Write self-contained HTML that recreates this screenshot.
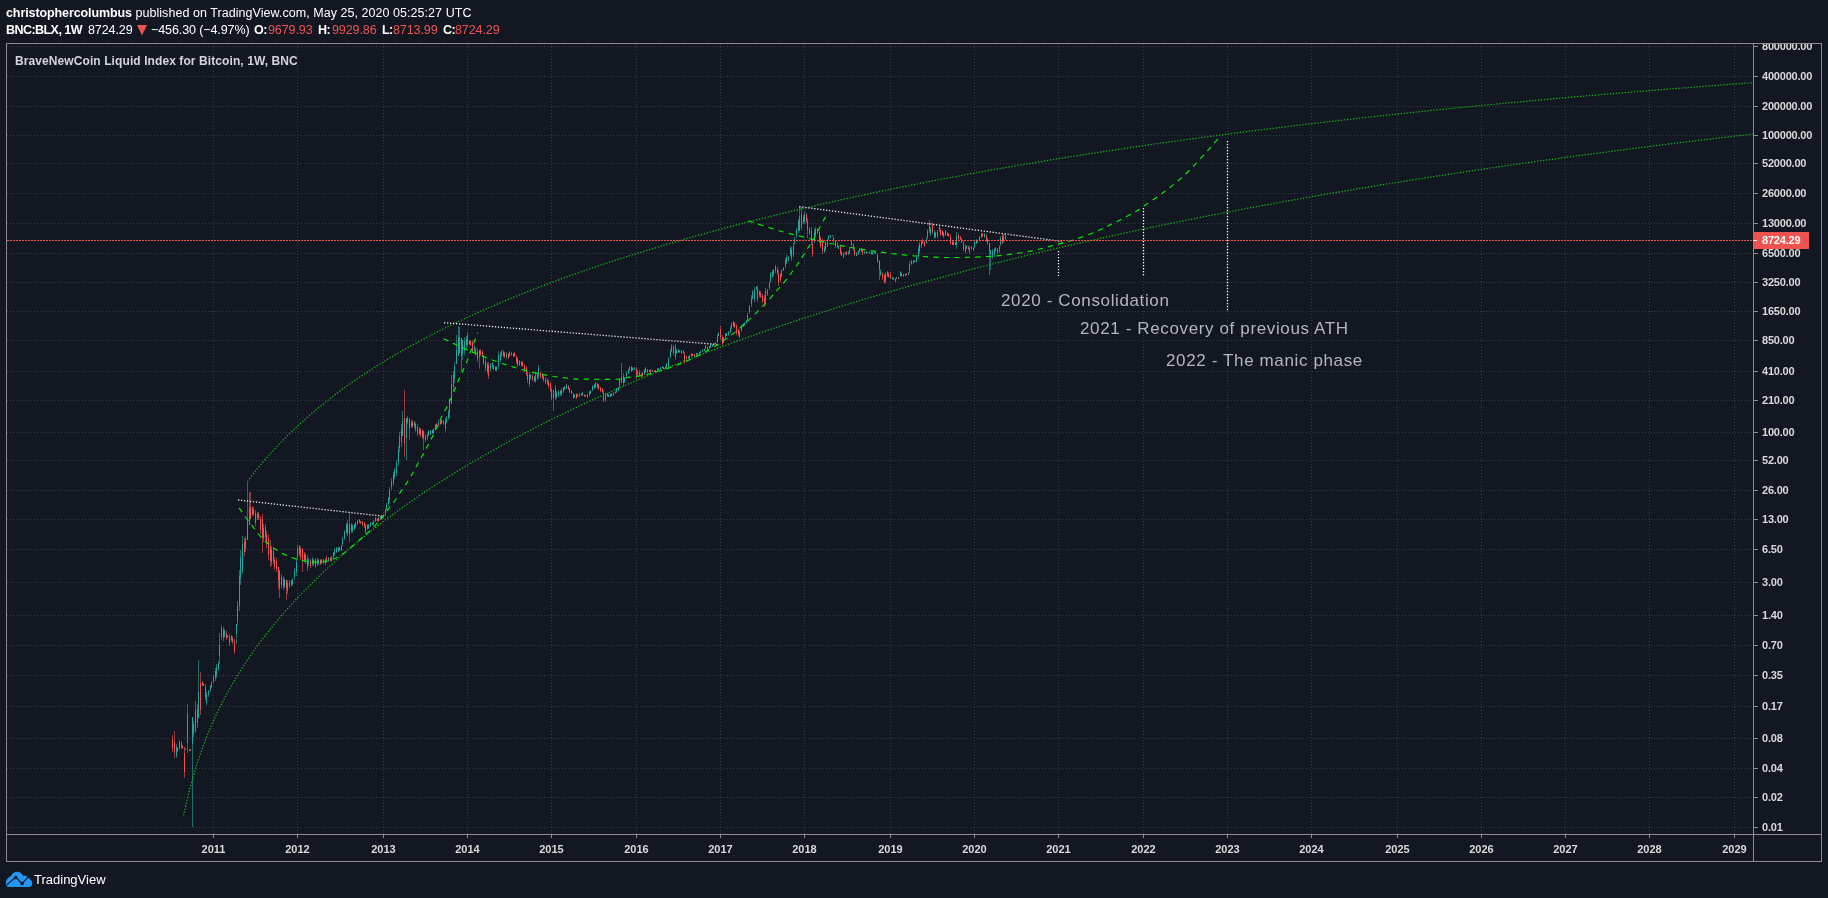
<!DOCTYPE html>
<html><head><meta charset="utf-8"><title>BNC:BLX chart</title>
<style>
html,body{margin:0;padding:0;background:#131722;}
body{width:1828px;height:898px;position:relative;overflow:hidden;font-family:"Liberation Sans",sans-serif;color:#fff;}
svg{position:absolute;left:0;top:0;}
.t{position:absolute;white-space:nowrap;line-height:1;}
.t,.pl,.yl,.tag,.ann,.logo{will-change:transform;}
.h1{left:6px;top:7px;font-size:12.5px;letter-spacing:0.05px;}
.h1 b{letter-spacing:-0.1px;}
.h2{left:6px;top:24px;font-size:12.5px;letter-spacing:-0.1px;}
.h2 b{letter-spacing:-0.55px;}
.h2 span{position:absolute;top:0;}
.red{color:#ef5350;}
.title{left:15px;top:55px;font-size:12px;font-weight:bold;color:#d1d4dc;letter-spacing:0.09px;}
.axis{position:absolute;left:1754px;top:44px;width:67px;height:790px;overflow:hidden;}
.pl{position:absolute;left:1762px;font-size:11px;font-weight:bold;color:#d9d9d9;line-height:12px;height:12px;white-space:nowrap;letter-spacing:-0.2px;}
.yl{position:absolute;top:843px;width:41px;text-align:center;font-size:11px;font-weight:bold;color:#d9d9d9;line-height:12px;}
.tag{position:absolute;left:1753px;top:232px;width:56px;height:17px;background:#ef5350;}
.tag i{position:absolute;left:0;top:8px;width:4px;height:1px;background:#fff;}
.tag b{position:absolute;left:9px;top:2px;font-size:11px;line-height:12px;color:#fff;letter-spacing:-0.2px;}
.ann{position:absolute;white-space:nowrap;color:#b2b5be;font-size:17px;line-height:1;letter-spacing:0.63px;}
.logo{position:absolute;left:34px;top:872px;font-size:13px;color:#fff;line-height:15px;}
</style></head><body>
<svg width="1828" height="898" viewBox="0 0 1828 898">
<g stroke="#363a45" stroke-width="1" stroke-dasharray="1 2" shape-rendering="crispEdges"><line x1="7" y1="46.5" x2="1753" y2="46.5"/><line x1="7" y1="76.5" x2="1753" y2="76.5"/><line x1="7" y1="106.5" x2="1753" y2="106.5"/><line x1="7" y1="135.5" x2="1753" y2="135.5"/><line x1="7" y1="163.5" x2="1753" y2="163.5"/><line x1="7" y1="193.5" x2="1753" y2="193.5"/><line x1="7" y1="223.5" x2="1753" y2="223.5"/><line x1="7" y1="253.5" x2="1753" y2="253.5"/><line x1="7" y1="282.5" x2="1753" y2="282.5"/><line x1="7" y1="311.5" x2="1753" y2="311.5"/><line x1="7" y1="340.5" x2="1753" y2="340.5"/><line x1="7" y1="371.5" x2="1753" y2="371.5"/><line x1="7" y1="400.5" x2="1753" y2="400.5"/><line x1="7" y1="432.5" x2="1753" y2="432.5"/><line x1="7" y1="460.5" x2="1753" y2="460.5"/><line x1="7" y1="490.5" x2="1753" y2="490.5"/><line x1="7" y1="519.5" x2="1753" y2="519.5"/><line x1="7" y1="549.5" x2="1753" y2="549.5"/><line x1="7" y1="582.5" x2="1753" y2="582.5"/><line x1="7" y1="615.5" x2="1753" y2="615.5"/><line x1="7" y1="645.5" x2="1753" y2="645.5"/><line x1="7" y1="675.5" x2="1753" y2="675.5"/><line x1="7" y1="706.5" x2="1753" y2="706.5"/><line x1="7" y1="738.5" x2="1753" y2="738.5"/><line x1="7" y1="768.5" x2="1753" y2="768.5"/><line x1="7" y1="797.5" x2="1753" y2="797.5"/><line x1="7" y1="827.5" x2="1753" y2="827.5"/><line x1="213.5" y1="44" x2="213.5" y2="834"/><line x1="297.5" y1="44" x2="297.5" y2="834"/><line x1="383.5" y1="44" x2="383.5" y2="834"/><line x1="467.5" y1="44" x2="467.5" y2="834"/><line x1="551.5" y1="44" x2="551.5" y2="834"/><line x1="636.5" y1="44" x2="636.5" y2="834"/><line x1="720.5" y1="44" x2="720.5" y2="834"/><line x1="804.5" y1="44" x2="804.5" y2="834"/><line x1="890.5" y1="44" x2="890.5" y2="834"/><line x1="974.5" y1="44" x2="974.5" y2="834"/><line x1="1058.5" y1="44" x2="1058.5" y2="834"/><line x1="1143.5" y1="44" x2="1143.5" y2="834"/><line x1="1227.5" y1="44" x2="1227.5" y2="834"/><line x1="1311.5" y1="44" x2="1311.5" y2="834"/><line x1="1397.5" y1="44" x2="1397.5" y2="834"/><line x1="1481.5" y1="44" x2="1481.5" y2="834"/><line x1="1565.5" y1="44" x2="1565.5" y2="834"/><line x1="1649.5" y1="44" x2="1649.5" y2="834"/><line x1="1734.5" y1="44" x2="1734.5" y2="834"/></g>
<g shape-rendering="crispEdges"><rect x="172" y="735.4" width="1" height="16.2" fill="#ef5350" opacity="0.6"/>
<rect x="172" y="738.6" width="1" height="9.7" fill="#ef5350"/>
<rect x="174" y="731.4" width="1" height="26.8" fill="#ef5350" opacity="0.6"/>
<rect x="174" y="741.9" width="1" height="10.1" fill="#ef5350"/>
<rect x="176" y="744.4" width="1" height="13.8" fill="#26a69a" opacity="0.6"/>
<rect x="176" y="747.2" width="1" height="8.3" fill="#26a69a"/>
<rect x="177" y="747.4" width="1" height="4.2" fill="#ef5350" opacity="0.6"/>
<rect x="177" y="748.2" width="1" height="2.5" fill="#ef5350"/>
<rect x="179" y="740.1" width="1" height="9.5" fill="#26a69a" opacity="0.6"/>
<rect x="179" y="742.0" width="1" height="5.7" fill="#26a69a"/>
<rect x="181" y="741.0" width="1" height="7.6" fill="#26a69a" opacity="0.6"/>
<rect x="181" y="742.5" width="1" height="4.6" fill="#26a69a"/>
<rect x="182" y="745.4" width="1" height="3.2" fill="#ef5350" opacity="0.6"/>
<rect x="182" y="746.0" width="1" height="1.9" fill="#ef5350"/>
<rect x="184" y="747.4" width="1" height="30.2" fill="#ef5350" opacity="0.6"/>
<rect x="184" y="753.4" width="1" height="18.1" fill="#ef5350"/>
<rect x="185" y="748.4" width="1" height="1.5" fill="#ef5350" opacity="0.6"/>
<rect x="185" y="748.7" width="1" height="0.9" fill="#ef5350"/>
<rect x="187" y="704.1" width="1" height="48.5" fill="#26a69a" opacity="0.6"/>
<rect x="187" y="713.8" width="1" height="29.1" fill="#26a69a"/>
<rect x="189" y="749.4" width="1" height="1.5" fill="#ef5350" opacity="0.6"/>
<rect x="189" y="749.7" width="1" height="0.9" fill="#ef5350"/>
<rect x="190" y="749.4" width="1" height="1.5" fill="#ef5350" opacity="0.6"/>
<rect x="190" y="749.7" width="1" height="0.9" fill="#ef5350"/>
<rect x="192" y="717.4" width="1" height="109.2" fill="#26a69a" opacity="0.6"/>
<rect x="192" y="717.4" width="1" height="26.8" fill="#26a69a"/>
<rect x="193" y="721.1" width="1" height="16.3" fill="#26a69a" opacity="0.6"/>
<rect x="193" y="724.4" width="1" height="9.8" fill="#26a69a"/>
<rect x="195" y="701.2" width="1" height="30.4" fill="#26a69a" opacity="0.6"/>
<rect x="195" y="710.4" width="1" height="21.2" fill="#26a69a"/>
<rect x="197" y="704.1" width="1" height="23.5" fill="#26a69a" opacity="0.6"/>
<rect x="197" y="708.8" width="1" height="14.1" fill="#26a69a"/>
<rect x="198" y="660.4" width="1" height="58.0" fill="#26a69a" opacity="0.6"/>
<rect x="198" y="691.8" width="1" height="26.6" fill="#26a69a"/>
<rect x="200" y="672.4" width="1" height="42.2" fill="#ef5350" opacity="0.6"/>
<rect x="200" y="683.3" width="1" height="26.5" fill="#ef5350"/>
<rect x="202" y="681.4" width="1" height="4.8" fill="#ef5350" opacity="0.6"/>
<rect x="202" y="682.4" width="1" height="2.9" fill="#ef5350"/>
<rect x="203" y="683.2" width="1" height="3.0" fill="#ef5350" opacity="0.6"/>
<rect x="203" y="683.8" width="1" height="1.8" fill="#ef5350"/>
<rect x="205" y="684.2" width="1" height="16.2" fill="#ef5350" opacity="0.6"/>
<rect x="205" y="687.4" width="1" height="9.7" fill="#ef5350"/>
<rect x="206" y="692.4" width="1" height="12.8" fill="#26a69a" opacity="0.6"/>
<rect x="206" y="695.0" width="1" height="7.7" fill="#26a69a"/>
<rect x="208" y="689.9" width="1" height="6.7" fill="#26a69a" opacity="0.6"/>
<rect x="208" y="691.2" width="1" height="4.0" fill="#26a69a"/>
<rect x="210" y="685.1" width="1" height="6.5" fill="#26a69a" opacity="0.6"/>
<rect x="210" y="686.4" width="1" height="3.9" fill="#26a69a"/>
<rect x="211" y="681.4" width="1" height="6.7" fill="#26a69a" opacity="0.6"/>
<rect x="211" y="682.7" width="1" height="4.0" fill="#26a69a"/>
<rect x="213" y="675.4" width="1" height="8.0" fill="#26a69a" opacity="0.6"/>
<rect x="213" y="677.0" width="1" height="4.8" fill="#26a69a"/>
<rect x="215" y="668.1" width="1" height="12.5" fill="#26a69a" opacity="0.6"/>
<rect x="215" y="670.6" width="1" height="7.5" fill="#26a69a"/>
<rect x="216" y="664.3" width="1" height="13.3" fill="#26a69a" opacity="0.6"/>
<rect x="216" y="667.0" width="1" height="8.0" fill="#26a69a"/>
<rect x="218" y="661.4" width="1" height="9.7" fill="#26a69a" opacity="0.6"/>
<rect x="218" y="663.3" width="1" height="5.8" fill="#26a69a"/>
<rect x="219" y="633.0" width="1" height="30.5" fill="#26a69a" opacity="0.6"/>
<rect x="219" y="644.9" width="1" height="11.4" fill="#26a69a"/>
<rect x="221" y="625.4" width="1" height="14.2" fill="#26a69a" opacity="0.6"/>
<rect x="221" y="628.2" width="1" height="8.5" fill="#26a69a"/>
<rect x="223" y="627.4" width="1" height="13.2" fill="#ef5350" opacity="0.6"/>
<rect x="223" y="630.0" width="1" height="7.9" fill="#ef5350"/>
<rect x="224" y="629.2" width="1" height="8.4" fill="#26a69a" opacity="0.6"/>
<rect x="224" y="630.9" width="1" height="5.0" fill="#26a69a"/>
<rect x="226" y="631.1" width="1" height="8.5" fill="#ef5350" opacity="0.6"/>
<rect x="226" y="632.8" width="1" height="5.1" fill="#ef5350"/>
<rect x="227" y="634.9" width="1" height="2.7" fill="#26a69a" opacity="0.6"/>
<rect x="227" y="635.4" width="1" height="1.6" fill="#26a69a"/>
<rect x="229" y="634.0" width="1" height="11.5" fill="#ef5350" opacity="0.6"/>
<rect x="229" y="636.3" width="1" height="6.9" fill="#ef5350"/>
<rect x="231" y="634.9" width="1" height="6.7" fill="#26a69a" opacity="0.6"/>
<rect x="231" y="636.2" width="1" height="4.0" fill="#26a69a"/>
<rect x="232" y="636.4" width="1" height="7.2" fill="#ef5350" opacity="0.6"/>
<rect x="232" y="637.8" width="1" height="4.3" fill="#ef5350"/>
<rect x="234" y="639.4" width="1" height="14.6" fill="#ef5350" opacity="0.6"/>
<rect x="234" y="642.3" width="1" height="8.8" fill="#ef5350"/>
<rect x="236" y="624.4" width="1" height="19.2" fill="#26a69a" opacity="0.6"/>
<rect x="236" y="624.4" width="1" height="9.6" fill="#26a69a"/>
<rect x="237" y="601.4" width="1" height="24.2" fill="#26a69a" opacity="0.6"/>
<rect x="237" y="606.2" width="1" height="14.5" fill="#26a69a"/>
<rect x="239" y="570.4" width="1" height="41.0" fill="#26a69a" opacity="0.6"/>
<rect x="239" y="575.5" width="1" height="30.0" fill="#26a69a"/>
<rect x="240" y="550.4" width="1" height="34.2" fill="#26a69a" opacity="0.6"/>
<rect x="240" y="557.2" width="1" height="20.5" fill="#26a69a"/>
<rect x="242" y="536.4" width="1" height="37.2" fill="#26a69a" opacity="0.6"/>
<rect x="242" y="544.0" width="1" height="26.5" fill="#26a69a"/>
<rect x="244" y="538.4" width="1" height="17.2" fill="#ef5350" opacity="0.6"/>
<rect x="244" y="541.8" width="1" height="10.3" fill="#ef5350"/>
<rect x="245" y="536.4" width="1" height="15.2" fill="#26a69a" opacity="0.6"/>
<rect x="245" y="539.4" width="1" height="9.1" fill="#26a69a"/>
<rect x="247" y="482.4" width="1" height="57.2" fill="#26a69a" opacity="0.6"/>
<rect x="247" y="521.0" width="1" height="18.6" fill="#26a69a"/>
<rect x="249" y="491.6" width="1" height="33.4" fill="#ef5350" opacity="0.6"/>
<rect x="249" y="506.5" width="1" height="18.4" fill="#ef5350"/>
<rect x="250" y="492.4" width="1" height="26.2" fill="#ef5350" opacity="0.6"/>
<rect x="250" y="506.5" width="1" height="12.1" fill="#ef5350"/>
<rect x="252" y="506.4" width="1" height="9.2" fill="#ef5350" opacity="0.6"/>
<rect x="252" y="508.2" width="1" height="5.5" fill="#ef5350"/>
<rect x="253" y="507.4" width="1" height="8.2" fill="#26a69a" opacity="0.6"/>
<rect x="253" y="509.0" width="1" height="4.9" fill="#26a69a"/>
<rect x="255" y="510.4" width="1" height="15.2" fill="#ef5350" opacity="0.6"/>
<rect x="255" y="513.4" width="1" height="9.1" fill="#ef5350"/>
<rect x="257" y="512.4" width="1" height="7.2" fill="#26a69a" opacity="0.6"/>
<rect x="257" y="513.8" width="1" height="4.3" fill="#26a69a"/>
<rect x="258" y="512.4" width="1" height="7.2" fill="#ef5350" opacity="0.6"/>
<rect x="258" y="513.8" width="1" height="4.3" fill="#ef5350"/>
<rect x="260" y="515.7" width="1" height="18.2" fill="#ef5350" opacity="0.6"/>
<rect x="260" y="519.3" width="1" height="10.9" fill="#ef5350"/>
<rect x="262" y="514.4" width="1" height="38.2" fill="#ef5350" opacity="0.6"/>
<rect x="262" y="518.5" width="1" height="19.8" fill="#ef5350"/>
<rect x="263" y="524.4" width="1" height="17.2" fill="#26a69a" opacity="0.6"/>
<rect x="263" y="527.8" width="1" height="10.3" fill="#26a69a"/>
<rect x="265" y="524.4" width="1" height="15.2" fill="#26a69a" opacity="0.6"/>
<rect x="265" y="527.4" width="1" height="9.1" fill="#26a69a"/>
<rect x="266" y="531.4" width="1" height="16.2" fill="#ef5350" opacity="0.6"/>
<rect x="266" y="534.7" width="1" height="9.7" fill="#ef5350"/>
<rect x="268" y="534.4" width="1" height="25.2" fill="#ef5350" opacity="0.6"/>
<rect x="268" y="539.4" width="1" height="15.1" fill="#ef5350"/>
<rect x="270" y="540.4" width="1" height="26.2" fill="#ef5350" opacity="0.6"/>
<rect x="270" y="545.6" width="1" height="15.7" fill="#ef5350"/>
<rect x="271" y="546.4" width="1" height="19.2" fill="#ef5350" opacity="0.6"/>
<rect x="271" y="550.2" width="1" height="11.5" fill="#ef5350"/>
<rect x="273" y="548.4" width="1" height="15.2" fill="#26a69a" opacity="0.6"/>
<rect x="273" y="551.4" width="1" height="9.1" fill="#26a69a"/>
<rect x="274" y="557.4" width="1" height="12.2" fill="#ef5350" opacity="0.6"/>
<rect x="274" y="559.8" width="1" height="7.3" fill="#ef5350"/>
<rect x="276" y="558.4" width="1" height="13.2" fill="#ef5350" opacity="0.6"/>
<rect x="276" y="561.0" width="1" height="7.9" fill="#ef5350"/>
<rect x="278" y="567.4" width="1" height="22.2" fill="#ef5350" opacity="0.6"/>
<rect x="278" y="567.4" width="1" height="12.6" fill="#ef5350"/>
<rect x="279" y="570.4" width="1" height="27.2" fill="#ef5350" opacity="0.6"/>
<rect x="279" y="570.5" width="1" height="17.5" fill="#ef5350"/>
<rect x="281" y="574.4" width="1" height="13.2" fill="#ef5350" opacity="0.6"/>
<rect x="281" y="577.0" width="1" height="7.9" fill="#ef5350"/>
<rect x="283" y="576.4" width="1" height="13.2" fill="#ef5350" opacity="0.6"/>
<rect x="283" y="579.0" width="1" height="7.9" fill="#ef5350"/>
<rect x="284" y="578.4" width="1" height="9.2" fill="#26a69a" opacity="0.6"/>
<rect x="284" y="580.2" width="1" height="5.5" fill="#26a69a"/>
<rect x="286" y="580.4" width="1" height="19.2" fill="#ef5350" opacity="0.6"/>
<rect x="286" y="580.4" width="1" height="7.6" fill="#ef5350"/>
<rect x="287" y="580.4" width="1" height="13.2" fill="#26a69a" opacity="0.6"/>
<rect x="287" y="583.0" width="1" height="7.9" fill="#26a69a"/>
<rect x="289" y="580.4" width="1" height="7.2" fill="#26a69a" opacity="0.6"/>
<rect x="289" y="581.8" width="1" height="4.3" fill="#26a69a"/>
<rect x="291" y="580.1" width="1" height="5.8" fill="#26a69a" opacity="0.6"/>
<rect x="291" y="581.3" width="1" height="3.5" fill="#26a69a"/>
<rect x="292" y="578.4" width="1" height="7.2" fill="#26a69a" opacity="0.6"/>
<rect x="292" y="579.8" width="1" height="4.3" fill="#26a69a"/>
<rect x="294" y="568.4" width="1" height="11.2" fill="#26a69a" opacity="0.6"/>
<rect x="294" y="570.6" width="1" height="6.7" fill="#26a69a"/>
<rect x="296" y="558.4" width="1" height="17.2" fill="#26a69a" opacity="0.6"/>
<rect x="296" y="561.8" width="1" height="10.3" fill="#26a69a"/>
<rect x="297" y="545.4" width="1" height="14.2" fill="#26a69a" opacity="0.6"/>
<rect x="297" y="548.2" width="1" height="8.5" fill="#26a69a"/>
<rect x="299" y="545.4" width="1" height="10.2" fill="#ef5350" opacity="0.6"/>
<rect x="299" y="547.4" width="1" height="6.1" fill="#ef5350"/>
<rect x="300" y="546.4" width="1" height="13.2" fill="#ef5350" opacity="0.6"/>
<rect x="300" y="549.0" width="1" height="7.9" fill="#ef5350"/>
<rect x="302" y="548.4" width="1" height="23.2" fill="#ef5350" opacity="0.6"/>
<rect x="302" y="549.0" width="1" height="12.0" fill="#ef5350"/>
<rect x="304" y="552.4" width="1" height="9.2" fill="#ef5350" opacity="0.6"/>
<rect x="304" y="554.2" width="1" height="5.5" fill="#ef5350"/>
<rect x="305" y="553.4" width="1" height="10.2" fill="#26a69a" opacity="0.6"/>
<rect x="305" y="555.4" width="1" height="6.1" fill="#26a69a"/>
<rect x="307" y="555.4" width="1" height="15.2" fill="#ef5350" opacity="0.6"/>
<rect x="307" y="558.4" width="1" height="9.1" fill="#ef5350"/>
<rect x="308" y="558.4" width="1" height="7.2" fill="#26a69a" opacity="0.6"/>
<rect x="308" y="559.8" width="1" height="4.3" fill="#26a69a"/>
<rect x="310" y="559.4" width="1" height="8.2" fill="#ef5350" opacity="0.6"/>
<rect x="310" y="561.0" width="1" height="4.9" fill="#ef5350"/>
<rect x="312" y="557.4" width="1" height="8.2" fill="#26a69a" opacity="0.6"/>
<rect x="312" y="559.0" width="1" height="4.9" fill="#26a69a"/>
<rect x="313" y="558.8" width="1" height="7.0" fill="#ef5350" opacity="0.6"/>
<rect x="313" y="560.2" width="1" height="4.2" fill="#ef5350"/>
<rect x="315" y="558.4" width="1" height="9.2" fill="#ef5350" opacity="0.6"/>
<rect x="315" y="560.2" width="1" height="5.5" fill="#ef5350"/>
<rect x="317" y="558.4" width="1" height="7.2" fill="#ef5350" opacity="0.6"/>
<rect x="317" y="559.8" width="1" height="4.3" fill="#ef5350"/>
<rect x="318" y="559.1" width="1" height="5.6" fill="#26a69a" opacity="0.6"/>
<rect x="318" y="560.2" width="1" height="3.4" fill="#26a69a"/>
<rect x="320" y="559.1" width="1" height="5.4" fill="#ef5350" opacity="0.6"/>
<rect x="320" y="560.2" width="1" height="3.3" fill="#ef5350"/>
<rect x="321" y="559.1" width="1" height="5.3" fill="#26a69a" opacity="0.6"/>
<rect x="321" y="560.1" width="1" height="3.2" fill="#26a69a"/>
<rect x="323" y="559.0" width="1" height="5.1" fill="#ef5350" opacity="0.6"/>
<rect x="323" y="560.1" width="1" height="3.1" fill="#ef5350"/>
<rect x="325" y="558.4" width="1" height="6.2" fill="#26a69a" opacity="0.6"/>
<rect x="325" y="559.6" width="1" height="3.7" fill="#26a69a"/>
<rect x="326" y="556.4" width="1" height="6.2" fill="#ef5350" opacity="0.6"/>
<rect x="326" y="557.6" width="1" height="3.7" fill="#ef5350"/>
<rect x="328" y="557.0" width="1" height="4.7" fill="#26a69a" opacity="0.6"/>
<rect x="328" y="557.9" width="1" height="2.8" fill="#26a69a"/>
<rect x="330" y="557.0" width="1" height="4.4" fill="#ef5350" opacity="0.6"/>
<rect x="330" y="557.8" width="1" height="2.7" fill="#ef5350"/>
<rect x="331" y="556.4" width="1" height="5.2" fill="#26a69a" opacity="0.6"/>
<rect x="331" y="557.4" width="1" height="3.1" fill="#26a69a"/>
<rect x="333" y="552.4" width="1" height="5.2" fill="#26a69a" opacity="0.6"/>
<rect x="333" y="553.4" width="1" height="3.1" fill="#26a69a"/>
<rect x="334" y="548.4" width="1" height="7.2" fill="#26a69a" opacity="0.6"/>
<rect x="334" y="549.8" width="1" height="4.3" fill="#26a69a"/>
<rect x="336" y="547.4" width="1" height="5.2" fill="#26a69a" opacity="0.6"/>
<rect x="336" y="548.4" width="1" height="3.1" fill="#26a69a"/>
<rect x="338" y="547.3" width="1" height="4.2" fill="#26a69a" opacity="0.6"/>
<rect x="338" y="548.1" width="1" height="2.5" fill="#26a69a"/>
<rect x="339" y="546.6" width="1" height="4.2" fill="#26a69a" opacity="0.6"/>
<rect x="339" y="547.4" width="1" height="2.5" fill="#26a69a"/>
<rect x="341" y="545.4" width="1" height="5.2" fill="#26a69a" opacity="0.6"/>
<rect x="341" y="546.4" width="1" height="3.1" fill="#26a69a"/>
<rect x="342" y="537.4" width="1" height="8.2" fill="#26a69a" opacity="0.6"/>
<rect x="342" y="539.0" width="1" height="4.9" fill="#26a69a"/>
<rect x="344" y="530.4" width="1" height="9.2" fill="#26a69a" opacity="0.6"/>
<rect x="344" y="532.2" width="1" height="5.5" fill="#26a69a"/>
<rect x="346" y="523.4" width="1" height="10.2" fill="#26a69a" opacity="0.6"/>
<rect x="346" y="525.4" width="1" height="6.1" fill="#26a69a"/>
<rect x="347" y="519.9" width="1" height="15.8" fill="#ef5350" opacity="0.6"/>
<rect x="347" y="523.0" width="1" height="9.5" fill="#ef5350"/>
<rect x="349" y="512.4" width="1" height="29.2" fill="#ef5350" opacity="0.6"/>
<rect x="349" y="523.5" width="1" height="10.0" fill="#ef5350"/>
<rect x="351" y="523.4" width="1" height="9.2" fill="#ef5350" opacity="0.6"/>
<rect x="351" y="525.2" width="1" height="5.5" fill="#ef5350"/>
<rect x="352" y="524.4" width="1" height="8.2" fill="#26a69a" opacity="0.6"/>
<rect x="352" y="526.0" width="1" height="4.9" fill="#26a69a"/>
<rect x="354" y="524.4" width="1" height="5.2" fill="#26a69a" opacity="0.6"/>
<rect x="354" y="525.4" width="1" height="3.1" fill="#26a69a"/>
<rect x="355" y="522.4" width="1" height="5.2" fill="#26a69a" opacity="0.6"/>
<rect x="355" y="523.4" width="1" height="3.1" fill="#26a69a"/>
<rect x="357" y="520.4" width="1" height="4.2" fill="#26a69a" opacity="0.6"/>
<rect x="357" y="521.2" width="1" height="2.5" fill="#26a69a"/>
<rect x="359" y="519.4" width="1" height="3.2" fill="#26a69a" opacity="0.6"/>
<rect x="359" y="520.0" width="1" height="1.9" fill="#26a69a"/>
<rect x="360" y="520.8" width="1" height="3.0" fill="#ef5350" opacity="0.6"/>
<rect x="360" y="521.4" width="1" height="1.8" fill="#ef5350"/>
<rect x="362" y="521.4" width="1" height="4.2" fill="#ef5350" opacity="0.6"/>
<rect x="362" y="522.2" width="1" height="2.5" fill="#ef5350"/>
<rect x="364" y="522.4" width="1" height="5.2" fill="#ef5350" opacity="0.6"/>
<rect x="364" y="523.4" width="1" height="3.1" fill="#ef5350"/>
<rect x="365" y="524.4" width="1" height="9.2" fill="#ef5350" opacity="0.6"/>
<rect x="365" y="526.2" width="1" height="5.5" fill="#ef5350"/>
<rect x="367" y="524.4" width="1" height="5.2" fill="#26a69a" opacity="0.6"/>
<rect x="367" y="525.4" width="1" height="3.1" fill="#26a69a"/>
<rect x="368" y="524.4" width="1" height="4.2" fill="#26a69a" opacity="0.6"/>
<rect x="368" y="525.2" width="1" height="2.5" fill="#26a69a"/>
<rect x="370" y="522.4" width="1" height="4.2" fill="#26a69a" opacity="0.6"/>
<rect x="370" y="523.2" width="1" height="2.5" fill="#26a69a"/>
<rect x="372" y="521.8" width="1" height="3.4" fill="#26a69a" opacity="0.6"/>
<rect x="372" y="522.5" width="1" height="2.0" fill="#26a69a"/>
<rect x="373" y="520.4" width="1" height="4.2" fill="#26a69a" opacity="0.6"/>
<rect x="373" y="521.2" width="1" height="2.5" fill="#26a69a"/>
<rect x="375" y="517.4" width="1" height="4.2" fill="#ef5350" opacity="0.6"/>
<rect x="375" y="518.2" width="1" height="2.5" fill="#ef5350"/>
<rect x="377" y="517.8" width="1" height="3.4" fill="#26a69a" opacity="0.6"/>
<rect x="377" y="518.5" width="1" height="2.0" fill="#26a69a"/>
<rect x="378" y="517.4" width="1" height="4.2" fill="#ef5350" opacity="0.6"/>
<rect x="378" y="518.2" width="1" height="2.5" fill="#ef5350"/>
<rect x="380" y="516.4" width="1" height="3.2" fill="#26a69a" opacity="0.6"/>
<rect x="380" y="517.0" width="1" height="1.9" fill="#26a69a"/>
<rect x="381" y="515.7" width="1" height="2.6" fill="#26a69a" opacity="0.6"/>
<rect x="381" y="516.2" width="1" height="1.5" fill="#26a69a"/>
<rect x="383" y="514.4" width="1" height="3.2" fill="#26a69a" opacity="0.6"/>
<rect x="383" y="515.0" width="1" height="1.9" fill="#26a69a"/>
<rect x="385" y="508.4" width="1" height="7.2" fill="#26a69a" opacity="0.6"/>
<rect x="385" y="509.8" width="1" height="4.3" fill="#26a69a"/>
<rect x="386" y="503.4" width="1" height="7.2" fill="#26a69a" opacity="0.6"/>
<rect x="386" y="504.8" width="1" height="4.3" fill="#26a69a"/>
<rect x="388" y="496.5" width="1" height="9.0" fill="#26a69a" opacity="0.6"/>
<rect x="388" y="498.3" width="1" height="5.4" fill="#26a69a"/>
<rect x="389" y="487.4" width="1" height="15.2" fill="#26a69a" opacity="0.6"/>
<rect x="389" y="490.4" width="1" height="9.1" fill="#26a69a"/>
<rect x="391" y="478.4" width="1" height="11.2" fill="#26a69a" opacity="0.6"/>
<rect x="391" y="480.6" width="1" height="6.7" fill="#26a69a"/>
<rect x="393" y="472.4" width="1" height="13.2" fill="#26a69a" opacity="0.6"/>
<rect x="393" y="475.0" width="1" height="7.9" fill="#26a69a"/>
<rect x="394" y="467.8" width="1" height="11.4" fill="#26a69a" opacity="0.6"/>
<rect x="394" y="470.1" width="1" height="6.8" fill="#26a69a"/>
<rect x="396" y="460.4" width="1" height="15.2" fill="#26a69a" opacity="0.6"/>
<rect x="396" y="463.4" width="1" height="9.1" fill="#26a69a"/>
<rect x="398" y="446.4" width="1" height="19.2" fill="#26a69a" opacity="0.6"/>
<rect x="398" y="450.2" width="1" height="11.5" fill="#26a69a"/>
<rect x="399" y="432.4" width="1" height="19.2" fill="#26a69a" opacity="0.6"/>
<rect x="399" y="436.2" width="1" height="11.5" fill="#26a69a"/>
<rect x="401" y="424.4" width="1" height="22.2" fill="#26a69a" opacity="0.6"/>
<rect x="401" y="428.8" width="1" height="13.3" fill="#26a69a"/>
<rect x="402" y="411.4" width="1" height="24.2" fill="#26a69a" opacity="0.6"/>
<rect x="402" y="421.0" width="1" height="14.6" fill="#26a69a"/>
<rect x="404" y="390.0" width="1" height="67.4" fill="#ef5350" opacity="0.6"/>
<rect x="404" y="418.0" width="1" height="25.5" fill="#ef5350"/>
<rect x="406" y="418.4" width="1" height="41.2" fill="#26a69a" opacity="0.6"/>
<rect x="406" y="418.4" width="1" height="19.6" fill="#26a69a"/>
<rect x="407" y="416.4" width="1" height="7.2" fill="#26a69a" opacity="0.6"/>
<rect x="407" y="417.8" width="1" height="4.3" fill="#26a69a"/>
<rect x="409" y="418.4" width="1" height="21.2" fill="#ef5350" opacity="0.6"/>
<rect x="409" y="419.0" width="1" height="9.0" fill="#ef5350"/>
<rect x="411" y="420.4" width="1" height="7.2" fill="#26a69a" opacity="0.6"/>
<rect x="411" y="421.8" width="1" height="4.3" fill="#26a69a"/>
<rect x="412" y="420.4" width="1" height="7.2" fill="#ef5350" opacity="0.6"/>
<rect x="412" y="421.8" width="1" height="4.3" fill="#ef5350"/>
<rect x="414" y="421.4" width="1" height="6.2" fill="#26a69a" opacity="0.6"/>
<rect x="414" y="422.6" width="1" height="3.7" fill="#26a69a"/>
<rect x="415" y="422.4" width="1" height="9.2" fill="#ef5350" opacity="0.6"/>
<rect x="415" y="424.2" width="1" height="5.5" fill="#ef5350"/>
<rect x="417" y="424.4" width="1" height="11.2" fill="#ef5350" opacity="0.6"/>
<rect x="417" y="426.6" width="1" height="6.7" fill="#ef5350"/>
<rect x="419" y="427.4" width="1" height="7.8" fill="#ef5350" opacity="0.6"/>
<rect x="419" y="428.9" width="1" height="4.7" fill="#ef5350"/>
<rect x="420" y="428.4" width="1" height="8.2" fill="#ef5350" opacity="0.6"/>
<rect x="420" y="430.0" width="1" height="4.9" fill="#ef5350"/>
<rect x="422" y="429.4" width="1" height="9.2" fill="#ef5350" opacity="0.6"/>
<rect x="422" y="431.2" width="1" height="5.5" fill="#ef5350"/>
<rect x="423" y="431.4" width="1" height="18.2" fill="#ef5350" opacity="0.6"/>
<rect x="423" y="431.4" width="1" height="6.6" fill="#ef5350"/>
<rect x="425" y="434.4" width="1" height="7.2" fill="#26a69a" opacity="0.6"/>
<rect x="425" y="435.8" width="1" height="4.3" fill="#26a69a"/>
<rect x="427" y="433.4" width="1" height="6.2" fill="#26a69a" opacity="0.6"/>
<rect x="427" y="434.6" width="1" height="3.7" fill="#26a69a"/>
<rect x="428" y="430.4" width="1" height="5.2" fill="#26a69a" opacity="0.6"/>
<rect x="428" y="431.4" width="1" height="3.1" fill="#26a69a"/>
<rect x="430" y="430.3" width="1" height="4.2" fill="#26a69a" opacity="0.6"/>
<rect x="430" y="431.1" width="1" height="2.5" fill="#26a69a"/>
<rect x="432" y="429.6" width="1" height="4.2" fill="#26a69a" opacity="0.6"/>
<rect x="432" y="430.4" width="1" height="2.5" fill="#26a69a"/>
<rect x="433" y="428.4" width="1" height="5.2" fill="#26a69a" opacity="0.6"/>
<rect x="433" y="429.4" width="1" height="3.1" fill="#26a69a"/>
<rect x="435" y="424.4" width="1" height="5.2" fill="#26a69a" opacity="0.6"/>
<rect x="435" y="425.4" width="1" height="3.1" fill="#26a69a"/>
<rect x="436" y="423.0" width="1" height="4.6" fill="#ef5350" opacity="0.6"/>
<rect x="436" y="423.9" width="1" height="2.7" fill="#ef5350"/>
<rect x="438" y="420.4" width="1" height="6.2" fill="#26a69a" opacity="0.6"/>
<rect x="438" y="421.6" width="1" height="3.7" fill="#26a69a"/>
<rect x="440" y="420.4" width="1" height="4.2" fill="#ef5350" opacity="0.6"/>
<rect x="440" y="421.3" width="1" height="2.5" fill="#ef5350"/>
<rect x="441" y="419.4" width="1" height="4.2" fill="#ef5350" opacity="0.6"/>
<rect x="441" y="420.2" width="1" height="2.5" fill="#ef5350"/>
<rect x="443" y="420.4" width="1" height="4.2" fill="#ef5350" opacity="0.6"/>
<rect x="443" y="421.2" width="1" height="2.5" fill="#ef5350"/>
<rect x="445" y="418.4" width="1" height="13.2" fill="#ef5350" opacity="0.6"/>
<rect x="445" y="421.0" width="1" height="7.9" fill="#ef5350"/>
<rect x="446" y="416.4" width="1" height="7.2" fill="#26a69a" opacity="0.6"/>
<rect x="446" y="417.8" width="1" height="4.3" fill="#26a69a"/>
<rect x="448" y="410.4" width="1" height="9.2" fill="#26a69a" opacity="0.6"/>
<rect x="448" y="412.2" width="1" height="5.5" fill="#26a69a"/>
<rect x="449" y="399.4" width="1" height="18.2" fill="#26a69a" opacity="0.6"/>
<rect x="449" y="399.4" width="1" height="12.6" fill="#26a69a"/>
<rect x="451" y="375.4" width="1" height="28.2" fill="#26a69a" opacity="0.6"/>
<rect x="451" y="383.6" width="1" height="20.0" fill="#26a69a"/>
<rect x="453" y="371.1" width="1" height="19.6" fill="#26a69a" opacity="0.6"/>
<rect x="453" y="375.0" width="1" height="11.7" fill="#26a69a"/>
<rect x="454" y="361.9" width="1" height="20.7" fill="#26a69a" opacity="0.6"/>
<rect x="454" y="366.0" width="1" height="12.4" fill="#26a69a"/>
<rect x="456" y="335.4" width="1" height="28.2" fill="#26a69a" opacity="0.6"/>
<rect x="456" y="349.8" width="1" height="13.9" fill="#26a69a"/>
<rect x="458" y="326.4" width="1" height="29.2" fill="#26a69a" opacity="0.6"/>
<rect x="458" y="337.8" width="1" height="17.9" fill="#26a69a"/>
<rect x="459" y="327.4" width="1" height="25.2" fill="#ef5350" opacity="0.6"/>
<rect x="459" y="337.2" width="1" height="15.4" fill="#ef5350"/>
<rect x="461" y="338.4" width="1" height="32.2" fill="#26a69a" opacity="0.6"/>
<rect x="461" y="338.4" width="1" height="17.1" fill="#26a69a"/>
<rect x="462" y="340.4" width="1" height="19.8" fill="#26a69a" opacity="0.6"/>
<rect x="462" y="340.4" width="1" height="13.6" fill="#26a69a"/>
<rect x="464" y="337.4" width="1" height="17.2" fill="#26a69a" opacity="0.6"/>
<rect x="464" y="340.8" width="1" height="10.3" fill="#26a69a"/>
<rect x="466" y="336.4" width="1" height="11.2" fill="#26a69a" opacity="0.6"/>
<rect x="466" y="338.6" width="1" height="6.7" fill="#26a69a"/>
<rect x="467" y="332.4" width="1" height="14.2" fill="#ef5350" opacity="0.6"/>
<rect x="467" y="335.2" width="1" height="8.5" fill="#ef5350"/>
<rect x="469" y="340.4" width="1" height="4.2" fill="#ef5350" opacity="0.6"/>
<rect x="469" y="341.2" width="1" height="2.5" fill="#ef5350"/>
<rect x="470" y="340.4" width="1" height="5.2" fill="#ef5350" opacity="0.6"/>
<rect x="470" y="341.4" width="1" height="3.1" fill="#ef5350"/>
<rect x="472" y="340.4" width="1" height="12.7" fill="#ef5350" opacity="0.6"/>
<rect x="472" y="342.9" width="1" height="7.6" fill="#ef5350"/>
<rect x="474" y="345.4" width="1" height="7.2" fill="#26a69a" opacity="0.6"/>
<rect x="474" y="346.8" width="1" height="4.3" fill="#26a69a"/>
<rect x="475" y="347.9" width="1" height="8.2" fill="#ef5350" opacity="0.6"/>
<rect x="475" y="349.6" width="1" height="4.9" fill="#ef5350"/>
<rect x="477" y="348.4" width="1" height="13.2" fill="#ef5350" opacity="0.6"/>
<rect x="477" y="351.0" width="1" height="7.9" fill="#ef5350"/>
<rect x="479" y="350.4" width="1" height="18.7" fill="#ef5350" opacity="0.6"/>
<rect x="479" y="350.4" width="1" height="6.9" fill="#ef5350"/>
<rect x="480" y="349.4" width="1" height="6.2" fill="#ef5350" opacity="0.6"/>
<rect x="480" y="350.6" width="1" height="3.7" fill="#ef5350"/>
<rect x="482" y="350.4" width="1" height="6.2" fill="#ef5350" opacity="0.6"/>
<rect x="482" y="351.6" width="1" height="3.7" fill="#ef5350"/>
<rect x="483" y="355.4" width="1" height="9.7" fill="#ef5350" opacity="0.6"/>
<rect x="483" y="357.3" width="1" height="5.8" fill="#ef5350"/>
<rect x="485" y="359.4" width="1" height="11.2" fill="#ef5350" opacity="0.6"/>
<rect x="485" y="361.6" width="1" height="6.7" fill="#ef5350"/>
<rect x="487" y="362.1" width="1" height="11.4" fill="#ef5350" opacity="0.6"/>
<rect x="487" y="364.4" width="1" height="6.9" fill="#ef5350"/>
<rect x="488" y="361.9" width="1" height="17.4" fill="#ef5350" opacity="0.6"/>
<rect x="488" y="365.4" width="1" height="10.4" fill="#ef5350"/>
<rect x="490" y="363.4" width="1" height="7.2" fill="#26a69a" opacity="0.6"/>
<rect x="490" y="364.8" width="1" height="4.3" fill="#26a69a"/>
<rect x="492" y="361.9" width="1" height="6.7" fill="#26a69a" opacity="0.6"/>
<rect x="492" y="363.2" width="1" height="4.0" fill="#26a69a"/>
<rect x="493" y="365.4" width="1" height="4.2" fill="#26a69a" opacity="0.6"/>
<rect x="493" y="366.2" width="1" height="2.5" fill="#26a69a"/>
<rect x="495" y="366.4" width="1" height="4.2" fill="#ef5350" opacity="0.6"/>
<rect x="495" y="367.2" width="1" height="2.5" fill="#ef5350"/>
<rect x="496" y="366.4" width="1" height="4.2" fill="#26a69a" opacity="0.6"/>
<rect x="496" y="367.2" width="1" height="2.5" fill="#26a69a"/>
<rect x="498" y="351.4" width="1" height="17.7" fill="#26a69a" opacity="0.6"/>
<rect x="498" y="354.9" width="1" height="10.6" fill="#26a69a"/>
<rect x="500" y="351.9" width="1" height="9.8" fill="#26a69a" opacity="0.6"/>
<rect x="500" y="353.8" width="1" height="5.9" fill="#26a69a"/>
<rect x="501" y="349.9" width="1" height="6.7" fill="#26a69a" opacity="0.6"/>
<rect x="501" y="351.2" width="1" height="4.0" fill="#26a69a"/>
<rect x="503" y="350.4" width="1" height="6.7" fill="#ef5350" opacity="0.6"/>
<rect x="503" y="351.7" width="1" height="4.0" fill="#ef5350"/>
<rect x="504" y="352.4" width="1" height="5.2" fill="#ef5350" opacity="0.6"/>
<rect x="504" y="353.4" width="1" height="3.1" fill="#ef5350"/>
<rect x="506" y="352.4" width="1" height="6.2" fill="#26a69a" opacity="0.6"/>
<rect x="506" y="353.6" width="1" height="3.7" fill="#26a69a"/>
<rect x="508" y="353.4" width="1" height="5.2" fill="#ef5350" opacity="0.6"/>
<rect x="508" y="354.4" width="1" height="3.1" fill="#ef5350"/>
<rect x="509" y="351.4" width="1" height="5.2" fill="#26a69a" opacity="0.6"/>
<rect x="509" y="352.4" width="1" height="3.1" fill="#26a69a"/>
<rect x="511" y="352.2" width="1" height="4.0" fill="#ef5350" opacity="0.6"/>
<rect x="511" y="353.0" width="1" height="2.4" fill="#ef5350"/>
<rect x="513" y="352.6" width="1" height="3.9" fill="#26a69a" opacity="0.6"/>
<rect x="513" y="353.3" width="1" height="2.3" fill="#26a69a"/>
<rect x="514" y="352.4" width="1" height="4.7" fill="#ef5350" opacity="0.6"/>
<rect x="514" y="353.3" width="1" height="2.8" fill="#ef5350"/>
<rect x="516" y="355.4" width="1" height="8.2" fill="#ef5350" opacity="0.6"/>
<rect x="516" y="357.0" width="1" height="4.9" fill="#ef5350"/>
<rect x="517" y="357.4" width="1" height="9.2" fill="#ef5350" opacity="0.6"/>
<rect x="517" y="359.2" width="1" height="5.5" fill="#ef5350"/>
<rect x="519" y="360.4" width="1" height="5.2" fill="#ef5350" opacity="0.6"/>
<rect x="519" y="361.4" width="1" height="3.1" fill="#ef5350"/>
<rect x="521" y="361.4" width="1" height="4.2" fill="#ef5350" opacity="0.6"/>
<rect x="521" y="362.3" width="1" height="2.5" fill="#ef5350"/>
<rect x="522" y="361.4" width="1" height="5.2" fill="#ef5350" opacity="0.6"/>
<rect x="522" y="362.4" width="1" height="3.1" fill="#ef5350"/>
<rect x="524" y="364.4" width="1" height="7.2" fill="#ef5350" opacity="0.6"/>
<rect x="524" y="365.8" width="1" height="4.3" fill="#ef5350"/>
<rect x="526" y="366.4" width="1" height="9.2" fill="#ef5350" opacity="0.6"/>
<rect x="526" y="368.2" width="1" height="5.5" fill="#ef5350"/>
<rect x="527" y="371.4" width="1" height="11.2" fill="#ef5350" opacity="0.6"/>
<rect x="527" y="373.6" width="1" height="6.7" fill="#ef5350"/>
<rect x="529" y="372.4" width="1" height="14.9" fill="#ef5350" opacity="0.6"/>
<rect x="529" y="375.4" width="1" height="8.9" fill="#ef5350"/>
<rect x="530" y="373.9" width="1" height="5.7" fill="#26a69a" opacity="0.6"/>
<rect x="530" y="375.0" width="1" height="3.4" fill="#26a69a"/>
<rect x="532" y="374.4" width="1" height="6.7" fill="#ef5350" opacity="0.6"/>
<rect x="532" y="375.7" width="1" height="4.0" fill="#ef5350"/>
<rect x="534" y="376.4" width="1" height="5.2" fill="#26a69a" opacity="0.6"/>
<rect x="534" y="377.4" width="1" height="3.1" fill="#26a69a"/>
<rect x="535" y="373.4" width="1" height="9.2" fill="#26a69a" opacity="0.6"/>
<rect x="535" y="375.2" width="1" height="5.5" fill="#26a69a"/>
<rect x="537" y="372.4" width="1" height="7.2" fill="#26a69a" opacity="0.6"/>
<rect x="537" y="373.8" width="1" height="4.3" fill="#26a69a"/>
<rect x="538" y="365.1" width="1" height="13.5" fill="#26a69a" opacity="0.6"/>
<rect x="538" y="367.8" width="1" height="8.1" fill="#26a69a"/>
<rect x="540" y="372.4" width="1" height="5.2" fill="#ef5350" opacity="0.6"/>
<rect x="540" y="373.4" width="1" height="3.1" fill="#ef5350"/>
<rect x="542" y="373.4" width="1" height="5.2" fill="#ef5350" opacity="0.6"/>
<rect x="542" y="374.4" width="1" height="3.1" fill="#ef5350"/>
<rect x="543" y="375.4" width="1" height="6.2" fill="#ef5350" opacity="0.6"/>
<rect x="543" y="376.6" width="1" height="3.7" fill="#ef5350"/>
<rect x="545" y="377.4" width="1" height="6.2" fill="#ef5350" opacity="0.6"/>
<rect x="545" y="378.6" width="1" height="3.7" fill="#ef5350"/>
<rect x="547" y="378.4" width="1" height="6.2" fill="#ef5350" opacity="0.6"/>
<rect x="547" y="379.6" width="1" height="3.7" fill="#ef5350"/>
<rect x="548" y="380.4" width="1" height="7.2" fill="#ef5350" opacity="0.6"/>
<rect x="548" y="381.8" width="1" height="4.3" fill="#ef5350"/>
<rect x="550" y="382.4" width="1" height="9.2" fill="#ef5350" opacity="0.6"/>
<rect x="550" y="384.2" width="1" height="5.5" fill="#ef5350"/>
<rect x="551" y="387.9" width="1" height="12.0" fill="#ef5350" opacity="0.6"/>
<rect x="551" y="390.3" width="1" height="7.2" fill="#ef5350"/>
<rect x="553" y="390.4" width="1" height="20.8" fill="#ef5350" opacity="0.6"/>
<rect x="553" y="390.4" width="1" height="7.6" fill="#ef5350"/>
<rect x="555" y="385.4" width="1" height="14.9" fill="#26a69a" opacity="0.6"/>
<rect x="555" y="388.4" width="1" height="8.9" fill="#26a69a"/>
<rect x="556" y="391.4" width="1" height="7.2" fill="#26a69a" opacity="0.6"/>
<rect x="556" y="392.8" width="1" height="4.3" fill="#26a69a"/>
<rect x="558" y="390.4" width="1" height="6.2" fill="#26a69a" opacity="0.6"/>
<rect x="558" y="391.6" width="1" height="3.7" fill="#26a69a"/>
<rect x="560" y="390.1" width="1" height="5.4" fill="#26a69a" opacity="0.6"/>
<rect x="560" y="391.1" width="1" height="3.2" fill="#26a69a"/>
<rect x="561" y="388.4" width="1" height="7.2" fill="#26a69a" opacity="0.6"/>
<rect x="561" y="389.8" width="1" height="4.3" fill="#26a69a"/>
<rect x="563" y="386.8" width="1" height="6.4" fill="#26a69a" opacity="0.6"/>
<rect x="563" y="388.0" width="1" height="3.8" fill="#26a69a"/>
<rect x="564" y="386.1" width="1" height="4.2" fill="#26a69a" opacity="0.6"/>
<rect x="564" y="386.9" width="1" height="2.5" fill="#26a69a"/>
<rect x="566" y="384.4" width="1" height="4.2" fill="#26a69a" opacity="0.6"/>
<rect x="566" y="385.2" width="1" height="2.5" fill="#26a69a"/>
<rect x="568" y="385.4" width="1" height="4.2" fill="#ef5350" opacity="0.6"/>
<rect x="568" y="386.2" width="1" height="2.5" fill="#ef5350"/>
<rect x="569" y="388.4" width="1" height="4.2" fill="#ef5350" opacity="0.6"/>
<rect x="569" y="389.2" width="1" height="2.5" fill="#ef5350"/>
<rect x="571" y="390.4" width="1" height="3.7" fill="#ef5350" opacity="0.6"/>
<rect x="571" y="391.1" width="1" height="2.2" fill="#ef5350"/>
<rect x="573" y="393.4" width="1" height="5.2" fill="#ef5350" opacity="0.6"/>
<rect x="573" y="394.4" width="1" height="3.1" fill="#ef5350"/>
<rect x="574" y="393.9" width="1" height="4.2" fill="#26a69a" opacity="0.6"/>
<rect x="574" y="394.8" width="1" height="2.5" fill="#26a69a"/>
<rect x="576" y="393.4" width="1" height="5.2" fill="#ef5350" opacity="0.6"/>
<rect x="576" y="394.4" width="1" height="3.1" fill="#ef5350"/>
<rect x="577" y="393.8" width="1" height="3.4" fill="#26a69a" opacity="0.6"/>
<rect x="577" y="394.5" width="1" height="2.0" fill="#26a69a"/>
<rect x="579" y="393.4" width="1" height="3.2" fill="#26a69a" opacity="0.6"/>
<rect x="579" y="394.0" width="1" height="1.9" fill="#26a69a"/>
<rect x="581" y="393.2" width="1" height="2.6" fill="#26a69a" opacity="0.6"/>
<rect x="581" y="393.7" width="1" height="1.5" fill="#26a69a"/>
<rect x="582" y="392.4" width="1" height="3.2" fill="#26a69a" opacity="0.6"/>
<rect x="582" y="393.0" width="1" height="1.9" fill="#26a69a"/>
<rect x="584" y="394.1" width="1" height="2.5" fill="#ef5350" opacity="0.6"/>
<rect x="584" y="394.6" width="1" height="1.5" fill="#ef5350"/>
<rect x="585" y="394.5" width="1" height="2.3" fill="#ef5350" opacity="0.6"/>
<rect x="585" y="395.0" width="1" height="1.4" fill="#ef5350"/>
<rect x="587" y="394.4" width="1" height="3.2" fill="#ef5350" opacity="0.6"/>
<rect x="587" y="395.0" width="1" height="1.9" fill="#ef5350"/>
<rect x="589" y="391.4" width="1" height="4.2" fill="#26a69a" opacity="0.6"/>
<rect x="589" y="392.2" width="1" height="2.5" fill="#26a69a"/>
<rect x="590" y="390.4" width="1" height="3.2" fill="#26a69a" opacity="0.6"/>
<rect x="590" y="391.0" width="1" height="1.9" fill="#26a69a"/>
<rect x="592" y="385.4" width="1" height="5.2" fill="#26a69a" opacity="0.6"/>
<rect x="592" y="386.4" width="1" height="3.1" fill="#26a69a"/>
<rect x="594" y="384.4" width="1" height="4.2" fill="#26a69a" opacity="0.6"/>
<rect x="594" y="385.3" width="1" height="2.5" fill="#26a69a"/>
<rect x="595" y="382.4" width="1" height="5.2" fill="#26a69a" opacity="0.6"/>
<rect x="595" y="383.4" width="1" height="3.1" fill="#26a69a"/>
<rect x="597" y="383.4" width="1" height="4.2" fill="#ef5350" opacity="0.6"/>
<rect x="597" y="384.2" width="1" height="2.5" fill="#ef5350"/>
<rect x="598" y="384.4" width="1" height="5.2" fill="#ef5350" opacity="0.6"/>
<rect x="598" y="385.4" width="1" height="3.1" fill="#ef5350"/>
<rect x="600" y="387.4" width="1" height="4.2" fill="#ef5350" opacity="0.6"/>
<rect x="600" y="388.2" width="1" height="2.5" fill="#ef5350"/>
<rect x="602" y="388.4" width="1" height="4.2" fill="#ef5350" opacity="0.6"/>
<rect x="602" y="389.2" width="1" height="2.5" fill="#ef5350"/>
<rect x="603" y="390.4" width="1" height="11.8" fill="#ef5350" opacity="0.6"/>
<rect x="603" y="392.8" width="1" height="7.1" fill="#ef5350"/>
<rect x="605" y="393.4" width="1" height="8.2" fill="#26a69a" opacity="0.6"/>
<rect x="605" y="395.0" width="1" height="4.9" fill="#26a69a"/>
<rect x="607" y="393.4" width="1" height="3.2" fill="#ef5350" opacity="0.6"/>
<rect x="607" y="394.0" width="1" height="1.9" fill="#ef5350"/>
<rect x="608" y="394.4" width="1" height="2.8" fill="#26a69a" opacity="0.6"/>
<rect x="608" y="395.0" width="1" height="1.7" fill="#26a69a"/>
<rect x="610" y="393.4" width="1" height="3.8" fill="#26a69a" opacity="0.6"/>
<rect x="610" y="394.2" width="1" height="2.3" fill="#26a69a"/>
<rect x="611" y="393.2" width="1" height="2.8" fill="#26a69a" opacity="0.6"/>
<rect x="611" y="393.8" width="1" height="1.7" fill="#26a69a"/>
<rect x="613" y="392.4" width="1" height="3.2" fill="#26a69a" opacity="0.6"/>
<rect x="613" y="393.0" width="1" height="1.9" fill="#26a69a"/>
<rect x="615" y="390.8" width="1" height="3.2" fill="#26a69a" opacity="0.6"/>
<rect x="615" y="391.5" width="1" height="1.9" fill="#26a69a"/>
<rect x="616" y="388.4" width="1" height="4.9" fill="#26a69a" opacity="0.6"/>
<rect x="616" y="389.4" width="1" height="2.9" fill="#26a69a"/>
<rect x="618" y="387.1" width="1" height="3.5" fill="#26a69a" opacity="0.6"/>
<rect x="618" y="387.8" width="1" height="2.1" fill="#26a69a"/>
<rect x="619" y="378.4" width="1" height="9.2" fill="#26a69a" opacity="0.6"/>
<rect x="619" y="380.2" width="1" height="5.5" fill="#26a69a"/>
<rect x="621" y="363.2" width="1" height="19.9" fill="#26a69a" opacity="0.6"/>
<rect x="621" y="377.2" width="1" height="5.9" fill="#26a69a"/>
<rect x="623" y="373.0" width="1" height="12.6" fill="#ef5350" opacity="0.6"/>
<rect x="623" y="375.5" width="1" height="7.6" fill="#ef5350"/>
<rect x="624" y="376.9" width="1" height="6.2" fill="#26a69a" opacity="0.6"/>
<rect x="624" y="378.1" width="1" height="3.7" fill="#26a69a"/>
<rect x="626" y="371.4" width="1" height="6.2" fill="#26a69a" opacity="0.6"/>
<rect x="626" y="372.6" width="1" height="3.7" fill="#26a69a"/>
<rect x="628" y="369.2" width="1" height="4.5" fill="#26a69a" opacity="0.6"/>
<rect x="628" y="370.1" width="1" height="2.7" fill="#26a69a"/>
<rect x="629" y="365.8" width="1" height="5.1" fill="#26a69a" opacity="0.6"/>
<rect x="629" y="366.8" width="1" height="3.1" fill="#26a69a"/>
<rect x="631" y="366.0" width="1" height="6.2" fill="#ef5350" opacity="0.6"/>
<rect x="631" y="367.2" width="1" height="3.7" fill="#ef5350"/>
<rect x="632" y="367.0" width="1" height="3.7" fill="#26a69a" opacity="0.6"/>
<rect x="632" y="367.7" width="1" height="2.2" fill="#26a69a"/>
<rect x="634" y="367.1" width="1" height="3.0" fill="#26a69a" opacity="0.6"/>
<rect x="634" y="367.7" width="1" height="1.8" fill="#26a69a"/>
<rect x="636" y="366.8" width="1" height="11.7" fill="#ef5350" opacity="0.6"/>
<rect x="636" y="369.1" width="1" height="7.0" fill="#ef5350"/>
<rect x="637" y="369.9" width="1" height="5.7" fill="#ef5350" opacity="0.6"/>
<rect x="637" y="371.0" width="1" height="3.4" fill="#ef5350"/>
<rect x="639" y="370.4" width="1" height="5.7" fill="#ef5350" opacity="0.6"/>
<rect x="639" y="371.5" width="1" height="3.4" fill="#ef5350"/>
<rect x="641" y="373.0" width="1" height="3.6" fill="#ef5350" opacity="0.6"/>
<rect x="641" y="373.7" width="1" height="2.2" fill="#ef5350"/>
<rect x="642" y="372.4" width="1" height="4.2" fill="#ef5350" opacity="0.6"/>
<rect x="642" y="373.2" width="1" height="2.5" fill="#ef5350"/>
<rect x="644" y="369.4" width="1" height="5.2" fill="#26a69a" opacity="0.6"/>
<rect x="644" y="370.4" width="1" height="3.1" fill="#26a69a"/>
<rect x="645" y="367.4" width="1" height="5.2" fill="#26a69a" opacity="0.6"/>
<rect x="645" y="368.4" width="1" height="3.1" fill="#26a69a"/>
<rect x="647" y="369.1" width="1" height="3.5" fill="#ef5350" opacity="0.6"/>
<rect x="647" y="369.8" width="1" height="2.1" fill="#ef5350"/>
<rect x="649" y="369.6" width="1" height="2.8" fill="#ef5350" opacity="0.6"/>
<rect x="649" y="370.2" width="1" height="1.7" fill="#ef5350"/>
<rect x="650" y="369.4" width="1" height="3.6" fill="#ef5350" opacity="0.6"/>
<rect x="650" y="370.1" width="1" height="2.2" fill="#ef5350"/>
<rect x="652" y="369.9" width="1" height="2.3" fill="#26a69a" opacity="0.6"/>
<rect x="652" y="370.4" width="1" height="1.4" fill="#26a69a"/>
<rect x="654" y="370.1" width="1" height="1.8" fill="#ef5350" opacity="0.6"/>
<rect x="654" y="370.5" width="1" height="1.1" fill="#ef5350"/>
<rect x="655" y="369.9" width="1" height="2.3" fill="#26a69a" opacity="0.6"/>
<rect x="655" y="370.4" width="1" height="1.4" fill="#26a69a"/>
<rect x="657" y="368.4" width="1" height="2.2" fill="#26a69a" opacity="0.6"/>
<rect x="657" y="368.8" width="1" height="1.3" fill="#26a69a"/>
<rect x="658" y="368.1" width="1" height="1.8" fill="#26a69a" opacity="0.6"/>
<rect x="658" y="368.5" width="1" height="1.1" fill="#26a69a"/>
<rect x="660" y="367.4" width="1" height="2.2" fill="#26a69a" opacity="0.6"/>
<rect x="660" y="367.8" width="1" height="1.3" fill="#26a69a"/>
<rect x="662" y="366.0" width="1" height="2.3" fill="#26a69a" opacity="0.6"/>
<rect x="662" y="366.5" width="1" height="1.4" fill="#26a69a"/>
<rect x="663" y="366.8" width="1" height="2.3" fill="#ef5350" opacity="0.6"/>
<rect x="663" y="367.3" width="1" height="1.4" fill="#ef5350"/>
<rect x="665" y="366.4" width="1" height="2.7" fill="#26a69a" opacity="0.6"/>
<rect x="665" y="366.9" width="1" height="1.6" fill="#26a69a"/>
<rect x="666" y="362.5" width="1" height="5.2" fill="#26a69a" opacity="0.6"/>
<rect x="666" y="363.6" width="1" height="3.1" fill="#26a69a"/>
<rect x="668" y="357.4" width="1" height="10.2" fill="#26a69a" opacity="0.6"/>
<rect x="668" y="359.4" width="1" height="6.1" fill="#26a69a"/>
<rect x="670" y="349.4" width="1" height="8.8" fill="#26a69a" opacity="0.6"/>
<rect x="670" y="351.2" width="1" height="5.3" fill="#26a69a"/>
<rect x="671" y="344.2" width="1" height="7.8" fill="#26a69a" opacity="0.6"/>
<rect x="671" y="345.8" width="1" height="4.7" fill="#26a69a"/>
<rect x="673" y="345.4" width="1" height="9.3" fill="#ef5350" opacity="0.6"/>
<rect x="673" y="347.2" width="1" height="5.6" fill="#ef5350"/>
<rect x="675" y="344.2" width="1" height="15.4" fill="#ef5350" opacity="0.6"/>
<rect x="675" y="347.3" width="1" height="9.2" fill="#ef5350"/>
<rect x="676" y="349.4" width="1" height="4.9" fill="#26a69a" opacity="0.6"/>
<rect x="676" y="350.4" width="1" height="2.9" fill="#26a69a"/>
<rect x="678" y="349.1" width="1" height="3.5" fill="#26a69a" opacity="0.6"/>
<rect x="678" y="349.8" width="1" height="2.1" fill="#26a69a"/>
<rect x="679" y="350.1" width="1" height="2.7" fill="#ef5350" opacity="0.6"/>
<rect x="679" y="350.6" width="1" height="1.6" fill="#ef5350"/>
<rect x="681" y="350.4" width="1" height="3.2" fill="#ef5350" opacity="0.6"/>
<rect x="681" y="351.0" width="1" height="1.9" fill="#ef5350"/>
<rect x="683" y="350.4" width="1" height="3.2" fill="#ef5350" opacity="0.6"/>
<rect x="683" y="351.0" width="1" height="1.9" fill="#ef5350"/>
<rect x="684" y="352.4" width="1" height="12.0" fill="#ef5350" opacity="0.6"/>
<rect x="684" y="354.8" width="1" height="7.2" fill="#ef5350"/>
<rect x="686" y="355.9" width="1" height="3.1" fill="#ef5350" opacity="0.6"/>
<rect x="686" y="356.5" width="1" height="1.9" fill="#ef5350"/>
<rect x="688" y="356.0" width="1" height="2.5" fill="#26a69a" opacity="0.6"/>
<rect x="688" y="356.5" width="1" height="1.5" fill="#26a69a"/>
<rect x="689" y="355.4" width="1" height="3.2" fill="#ef5350" opacity="0.6"/>
<rect x="689" y="356.0" width="1" height="1.9" fill="#ef5350"/>
<rect x="691" y="353.4" width="1" height="3.2" fill="#ef5350" opacity="0.6"/>
<rect x="691" y="354.0" width="1" height="1.9" fill="#ef5350"/>
<rect x="692" y="353.9" width="1" height="2.4" fill="#ef5350" opacity="0.6"/>
<rect x="692" y="354.4" width="1" height="1.4" fill="#ef5350"/>
<rect x="694" y="353.9" width="1" height="2.7" fill="#ef5350" opacity="0.6"/>
<rect x="694" y="354.4" width="1" height="1.6" fill="#ef5350"/>
<rect x="696" y="352.9" width="1" height="2.7" fill="#26a69a" opacity="0.6"/>
<rect x="696" y="353.4" width="1" height="1.6" fill="#26a69a"/>
<rect x="697" y="352.7" width="1" height="2.2" fill="#26a69a" opacity="0.6"/>
<rect x="697" y="353.1" width="1" height="1.3" fill="#26a69a"/>
<rect x="699" y="351.9" width="1" height="2.7" fill="#26a69a" opacity="0.6"/>
<rect x="699" y="352.4" width="1" height="1.6" fill="#26a69a"/>
<rect x="700" y="350.9" width="1" height="2.0" fill="#26a69a" opacity="0.6"/>
<rect x="700" y="351.3" width="1" height="1.2" fill="#26a69a"/>
<rect x="702" y="349.4" width="1" height="2.2" fill="#26a69a" opacity="0.6"/>
<rect x="702" y="349.8" width="1" height="1.3" fill="#26a69a"/>
<rect x="704" y="348.9" width="1" height="2.2" fill="#26a69a" opacity="0.6"/>
<rect x="704" y="349.3" width="1" height="1.3" fill="#26a69a"/>
<rect x="705" y="345.0" width="1" height="3.6" fill="#ef5350" opacity="0.6"/>
<rect x="705" y="345.7" width="1" height="2.2" fill="#ef5350"/>
<rect x="707" y="346.4" width="1" height="3.2" fill="#26a69a" opacity="0.6"/>
<rect x="707" y="347.0" width="1" height="1.9" fill="#26a69a"/>
<rect x="709" y="345.7" width="1" height="2.8" fill="#26a69a" opacity="0.6"/>
<rect x="709" y="346.3" width="1" height="1.7" fill="#26a69a"/>
<rect x="710" y="344.4" width="1" height="3.7" fill="#26a69a" opacity="0.6"/>
<rect x="710" y="345.1" width="1" height="2.2" fill="#26a69a"/>
<rect x="712" y="344.2" width="1" height="2.4" fill="#26a69a" opacity="0.6"/>
<rect x="712" y="344.7" width="1" height="1.4" fill="#26a69a"/>
<rect x="713" y="343.4" width="1" height="2.2" fill="#26a69a" opacity="0.6"/>
<rect x="713" y="343.8" width="1" height="1.3" fill="#26a69a"/>
<rect x="715" y="342.4" width="1" height="2.2" fill="#26a69a" opacity="0.6"/>
<rect x="715" y="342.8" width="1" height="1.3" fill="#26a69a"/>
<rect x="717" y="334.1" width="1" height="9.3" fill="#26a69a" opacity="0.6"/>
<rect x="717" y="336.0" width="1" height="5.6" fill="#26a69a"/>
<rect x="718" y="332.4" width="1" height="4.0" fill="#26a69a" opacity="0.6"/>
<rect x="718" y="333.2" width="1" height="2.4" fill="#26a69a"/>
<rect x="720" y="326.3" width="1" height="13.2" fill="#ef5350" opacity="0.6"/>
<rect x="720" y="328.9" width="1" height="7.9" fill="#ef5350"/>
<rect x="722" y="335.4" width="1" height="10.2" fill="#ef5350" opacity="0.6"/>
<rect x="722" y="337.4" width="1" height="6.1" fill="#ef5350"/>
<rect x="723" y="337.2" width="1" height="5.4" fill="#26a69a" opacity="0.6"/>
<rect x="723" y="338.3" width="1" height="3.2" fill="#26a69a"/>
<rect x="725" y="333.4" width="1" height="4.2" fill="#26a69a" opacity="0.6"/>
<rect x="725" y="334.2" width="1" height="2.5" fill="#26a69a"/>
<rect x="726" y="332.8" width="1" height="3.4" fill="#26a69a" opacity="0.6"/>
<rect x="726" y="333.5" width="1" height="2.0" fill="#26a69a"/>
<rect x="728" y="331.4" width="1" height="4.2" fill="#26a69a" opacity="0.6"/>
<rect x="728" y="332.2" width="1" height="2.5" fill="#26a69a"/>
<rect x="730" y="326.4" width="1" height="6.9" fill="#26a69a" opacity="0.6"/>
<rect x="730" y="327.8" width="1" height="4.1" fill="#26a69a"/>
<rect x="731" y="322.4" width="1" height="6.2" fill="#26a69a" opacity="0.6"/>
<rect x="731" y="323.6" width="1" height="3.7" fill="#26a69a"/>
<rect x="733" y="321.4" width="1" height="5.2" fill="#26a69a" opacity="0.6"/>
<rect x="733" y="322.4" width="1" height="3.1" fill="#26a69a"/>
<rect x="734" y="322.4" width="1" height="5.2" fill="#ef5350" opacity="0.6"/>
<rect x="734" y="323.4" width="1" height="3.1" fill="#ef5350"/>
<rect x="736" y="324.0" width="1" height="10.6" fill="#ef5350" opacity="0.6"/>
<rect x="736" y="326.1" width="1" height="6.4" fill="#ef5350"/>
<rect x="738" y="329.0" width="1" height="6.6" fill="#ef5350" opacity="0.6"/>
<rect x="738" y="330.3" width="1" height="4.0" fill="#ef5350"/>
<rect x="739" y="330.4" width="1" height="7.8" fill="#ef5350" opacity="0.6"/>
<rect x="739" y="332.0" width="1" height="4.7" fill="#ef5350"/>
<rect x="741" y="325.4" width="1" height="6.2" fill="#26a69a" opacity="0.6"/>
<rect x="741" y="326.6" width="1" height="3.7" fill="#26a69a"/>
<rect x="743" y="323.4" width="1" height="3.2" fill="#26a69a" opacity="0.6"/>
<rect x="743" y="324.0" width="1" height="1.9" fill="#26a69a"/>
<rect x="744" y="322.4" width="1" height="3.2" fill="#26a69a" opacity="0.6"/>
<rect x="744" y="323.0" width="1" height="1.9" fill="#26a69a"/>
<rect x="746" y="320.4" width="1" height="3.2" fill="#26a69a" opacity="0.6"/>
<rect x="746" y="321.0" width="1" height="1.9" fill="#26a69a"/>
<rect x="747" y="313.1" width="1" height="8.5" fill="#26a69a" opacity="0.6"/>
<rect x="747" y="314.8" width="1" height="5.1" fill="#26a69a"/>
<rect x="749" y="305.4" width="1" height="8.2" fill="#26a69a" opacity="0.6"/>
<rect x="749" y="307.0" width="1" height="4.9" fill="#26a69a"/>
<rect x="751" y="295.4" width="1" height="11.2" fill="#26a69a" opacity="0.6"/>
<rect x="751" y="297.6" width="1" height="6.7" fill="#26a69a"/>
<rect x="752" y="290.4" width="1" height="9.2" fill="#26a69a" opacity="0.6"/>
<rect x="752" y="292.2" width="1" height="5.5" fill="#26a69a"/>
<rect x="754" y="287.4" width="1" height="14.2" fill="#26a69a" opacity="0.6"/>
<rect x="754" y="290.2" width="1" height="8.5" fill="#26a69a"/>
<rect x="756" y="286.4" width="1" height="3.2" fill="#26a69a" opacity="0.6"/>
<rect x="756" y="287.0" width="1" height="1.9" fill="#26a69a"/>
<rect x="757" y="286.4" width="1" height="15.2" fill="#ef5350" opacity="0.6"/>
<rect x="757" y="289.4" width="1" height="9.1" fill="#ef5350"/>
<rect x="759" y="290.4" width="1" height="6.2" fill="#ef5350" opacity="0.6"/>
<rect x="759" y="291.6" width="1" height="3.7" fill="#ef5350"/>
<rect x="760" y="291.4" width="1" height="6.7" fill="#ef5350" opacity="0.6"/>
<rect x="760" y="292.7" width="1" height="4.0" fill="#ef5350"/>
<rect x="762" y="293.9" width="1" height="8.7" fill="#ef5350" opacity="0.6"/>
<rect x="762" y="295.6" width="1" height="5.2" fill="#ef5350"/>
<rect x="764" y="295.4" width="1" height="11.2" fill="#ef5350" opacity="0.6"/>
<rect x="764" y="297.6" width="1" height="6.7" fill="#ef5350"/>
<rect x="765" y="288.1" width="1" height="16.5" fill="#26a69a" opacity="0.6"/>
<rect x="765" y="291.4" width="1" height="9.9" fill="#26a69a"/>
<rect x="767" y="288.9" width="1" height="6.7" fill="#ef5350" opacity="0.6"/>
<rect x="767" y="290.2" width="1" height="4.0" fill="#ef5350"/>
<rect x="769" y="281.4" width="1" height="8.2" fill="#26a69a" opacity="0.6"/>
<rect x="769" y="283.0" width="1" height="4.9" fill="#26a69a"/>
<rect x="770" y="272.2" width="1" height="10.9" fill="#26a69a" opacity="0.6"/>
<rect x="770" y="274.4" width="1" height="6.5" fill="#26a69a"/>
<rect x="772" y="270.4" width="1" height="7.7" fill="#26a69a" opacity="0.6"/>
<rect x="772" y="271.9" width="1" height="4.6" fill="#26a69a"/>
<rect x="773" y="268.9" width="1" height="6.7" fill="#26a69a" opacity="0.6"/>
<rect x="773" y="270.2" width="1" height="4.0" fill="#26a69a"/>
<rect x="775" y="264.7" width="1" height="8.4" fill="#26a69a" opacity="0.6"/>
<rect x="775" y="266.4" width="1" height="5.0" fill="#26a69a"/>
<rect x="777" y="267.2" width="1" height="7.4" fill="#ef5350" opacity="0.6"/>
<rect x="777" y="268.7" width="1" height="4.4" fill="#ef5350"/>
<rect x="778" y="270.4" width="1" height="16.0" fill="#ef5350" opacity="0.6"/>
<rect x="778" y="273.6" width="1" height="9.6" fill="#ef5350"/>
<rect x="780" y="273.4" width="1" height="8.2" fill="#ef5350" opacity="0.6"/>
<rect x="780" y="275.0" width="1" height="4.9" fill="#ef5350"/>
<rect x="781" y="269.4" width="1" height="7.9" fill="#26a69a" opacity="0.6"/>
<rect x="781" y="271.0" width="1" height="4.7" fill="#26a69a"/>
<rect x="783" y="267.2" width="1" height="4.2" fill="#26a69a" opacity="0.6"/>
<rect x="783" y="268.0" width="1" height="2.5" fill="#26a69a"/>
<rect x="785" y="258.4" width="1" height="9.7" fill="#26a69a" opacity="0.6"/>
<rect x="785" y="260.3" width="1" height="5.8" fill="#26a69a"/>
<rect x="786" y="255.4" width="1" height="8.2" fill="#26a69a" opacity="0.6"/>
<rect x="786" y="257.0" width="1" height="4.9" fill="#26a69a"/>
<rect x="788" y="256.4" width="1" height="5.0" fill="#26a69a" opacity="0.6"/>
<rect x="788" y="257.4" width="1" height="3.0" fill="#26a69a"/>
<rect x="790" y="246.4" width="1" height="10.0" fill="#26a69a" opacity="0.6"/>
<rect x="790" y="248.4" width="1" height="6.0" fill="#26a69a"/>
<rect x="791" y="247.2" width="1" height="13.4" fill="#ef5350" opacity="0.6"/>
<rect x="791" y="249.9" width="1" height="8.0" fill="#ef5350"/>
<rect x="793" y="243.4" width="1" height="13.8" fill="#ef5350" opacity="0.6"/>
<rect x="793" y="246.2" width="1" height="8.3" fill="#ef5350"/>
<rect x="794" y="237.2" width="1" height="7.4" fill="#26a69a" opacity="0.6"/>
<rect x="794" y="238.7" width="1" height="4.4" fill="#26a69a"/>
<rect x="796" y="228.0" width="1" height="9.6" fill="#26a69a" opacity="0.6"/>
<rect x="796" y="229.9" width="1" height="5.8" fill="#26a69a"/>
<rect x="798" y="218.6" width="1" height="14.0" fill="#26a69a" opacity="0.6"/>
<rect x="798" y="221.4" width="1" height="8.4" fill="#26a69a"/>
<rect x="799" y="205.7" width="1" height="25.4" fill="#26a69a" opacity="0.6"/>
<rect x="799" y="215.7" width="1" height="15.4" fill="#26a69a"/>
<rect x="801" y="206.6" width="1" height="23.6" fill="#ef5350" opacity="0.6"/>
<rect x="801" y="214.0" width="1" height="14.0" fill="#ef5350"/>
<rect x="803" y="215.4" width="1" height="8.2" fill="#26a69a" opacity="0.6"/>
<rect x="803" y="217.0" width="1" height="4.9" fill="#26a69a"/>
<rect x="804" y="211.4" width="1" height="12.7" fill="#26a69a" opacity="0.6"/>
<rect x="804" y="213.9" width="1" height="7.6" fill="#26a69a"/>
<rect x="806" y="213.4" width="1" height="9.5" fill="#ef5350" opacity="0.6"/>
<rect x="806" y="215.3" width="1" height="5.7" fill="#ef5350"/>
<rect x="807" y="218.4" width="1" height="19.8" fill="#ef5350" opacity="0.6"/>
<rect x="807" y="221.0" width="1" height="9.0" fill="#ef5350"/>
<rect x="809" y="227.4" width="1" height="7.7" fill="#26a69a" opacity="0.6"/>
<rect x="809" y="228.9" width="1" height="4.6" fill="#26a69a"/>
<rect x="811" y="227.4" width="1" height="17.2" fill="#ef5350" opacity="0.6"/>
<rect x="811" y="230.8" width="1" height="10.3" fill="#ef5350"/>
<rect x="812" y="240.8" width="1" height="16.4" fill="#ef5350" opacity="0.6"/>
<rect x="812" y="244.1" width="1" height="9.8" fill="#ef5350"/>
<rect x="814" y="229.2" width="1" height="13.9" fill="#26a69a" opacity="0.6"/>
<rect x="814" y="232.0" width="1" height="8.3" fill="#26a69a"/>
<rect x="815" y="227.4" width="1" height="9.0" fill="#ef5350" opacity="0.6"/>
<rect x="815" y="229.2" width="1" height="5.4" fill="#ef5350"/>
<rect x="817" y="228.4" width="1" height="5.2" fill="#26a69a" opacity="0.6"/>
<rect x="817" y="229.4" width="1" height="3.1" fill="#26a69a"/>
<rect x="819" y="229.8" width="1" height="12.8" fill="#ef5350" opacity="0.6"/>
<rect x="819" y="232.4" width="1" height="7.7" fill="#ef5350"/>
<rect x="820" y="235.9" width="1" height="12.1" fill="#ef5350" opacity="0.6"/>
<rect x="820" y="238.3" width="1" height="7.3" fill="#ef5350"/>
<rect x="822" y="239.0" width="1" height="14.6" fill="#ef5350" opacity="0.6"/>
<rect x="822" y="241.9" width="1" height="8.8" fill="#ef5350"/>
<rect x="824" y="246.4" width="1" height="6.5" fill="#26a69a" opacity="0.6"/>
<rect x="824" y="247.7" width="1" height="3.9" fill="#26a69a"/>
<rect x="825" y="240.8" width="1" height="10.3" fill="#26a69a" opacity="0.6"/>
<rect x="825" y="242.9" width="1" height="6.2" fill="#26a69a"/>
<rect x="827" y="239.4" width="1" height="8.0" fill="#26a69a" opacity="0.6"/>
<rect x="827" y="241.0" width="1" height="4.8" fill="#26a69a"/>
<rect x="828" y="235.4" width="1" height="4.6" fill="#26a69a" opacity="0.6"/>
<rect x="828" y="236.3" width="1" height="2.8" fill="#26a69a"/>
<rect x="830" y="234.9" width="1" height="2.7" fill="#26a69a" opacity="0.6"/>
<rect x="830" y="235.4" width="1" height="1.6" fill="#26a69a"/>
<rect x="832" y="234.7" width="1" height="1.7" fill="#26a69a" opacity="0.6"/>
<rect x="832" y="235.0" width="1" height="1.0" fill="#26a69a"/>
<rect x="833" y="236.4" width="1" height="6.2" fill="#ef5350" opacity="0.6"/>
<rect x="833" y="237.6" width="1" height="3.7" fill="#ef5350"/>
<rect x="835" y="239.6" width="1" height="8.4" fill="#ef5350" opacity="0.6"/>
<rect x="835" y="241.3" width="1" height="5.0" fill="#ef5350"/>
<rect x="837" y="242.4" width="1" height="5.6" fill="#ef5350" opacity="0.6"/>
<rect x="837" y="243.5" width="1" height="3.4" fill="#ef5350"/>
<rect x="838" y="245.7" width="1" height="3.5" fill="#26a69a" opacity="0.6"/>
<rect x="838" y="246.4" width="1" height="2.1" fill="#26a69a"/>
<rect x="840" y="245.4" width="1" height="9.2" fill="#ef5350" opacity="0.6"/>
<rect x="840" y="247.2" width="1" height="5.5" fill="#ef5350"/>
<rect x="841" y="251.4" width="1" height="4.2" fill="#ef5350" opacity="0.6"/>
<rect x="841" y="252.2" width="1" height="2.5" fill="#ef5350"/>
<rect x="843" y="252.4" width="1" height="5.7" fill="#ef5350" opacity="0.6"/>
<rect x="843" y="253.5" width="1" height="3.4" fill="#ef5350"/>
<rect x="845" y="252.4" width="1" height="2.2" fill="#26a69a" opacity="0.6"/>
<rect x="845" y="252.8" width="1" height="1.3" fill="#26a69a"/>
<rect x="846" y="251.4" width="1" height="3.2" fill="#ef5350" opacity="0.6"/>
<rect x="846" y="252.0" width="1" height="1.9" fill="#ef5350"/>
<rect x="848" y="251.4" width="1" height="3.2" fill="#26a69a" opacity="0.6"/>
<rect x="848" y="252.0" width="1" height="1.9" fill="#26a69a"/>
<rect x="849" y="247.2" width="1" height="6.4" fill="#26a69a" opacity="0.6"/>
<rect x="849" y="248.5" width="1" height="3.8" fill="#26a69a"/>
<rect x="851" y="241.4" width="1" height="5.0" fill="#26a69a" opacity="0.6"/>
<rect x="851" y="242.4" width="1" height="3.0" fill="#26a69a"/>
<rect x="853" y="243.0" width="1" height="7.6" fill="#ef5350" opacity="0.6"/>
<rect x="853" y="244.5" width="1" height="4.6" fill="#ef5350"/>
<rect x="854" y="248.8" width="1" height="7.6" fill="#ef5350" opacity="0.6"/>
<rect x="854" y="250.3" width="1" height="4.6" fill="#ef5350"/>
<rect x="856" y="252.4" width="1" height="4.0" fill="#26a69a" opacity="0.6"/>
<rect x="856" y="253.2" width="1" height="2.4" fill="#26a69a"/>
<rect x="858" y="250.4" width="1" height="4.2" fill="#26a69a" opacity="0.6"/>
<rect x="858" y="251.2" width="1" height="2.5" fill="#26a69a"/>
<rect x="859" y="248.0" width="1" height="4.2" fill="#26a69a" opacity="0.6"/>
<rect x="859" y="248.8" width="1" height="2.5" fill="#26a69a"/>
<rect x="861" y="248.0" width="1" height="3.6" fill="#ef5350" opacity="0.6"/>
<rect x="861" y="248.7" width="1" height="2.2" fill="#ef5350"/>
<rect x="862" y="249.4" width="1" height="5.2" fill="#ef5350" opacity="0.6"/>
<rect x="862" y="250.4" width="1" height="3.1" fill="#ef5350"/>
<rect x="864" y="251.4" width="1" height="2.2" fill="#26a69a" opacity="0.6"/>
<rect x="864" y="251.8" width="1" height="1.3" fill="#26a69a"/>
<rect x="866" y="251.4" width="1" height="2.2" fill="#26a69a" opacity="0.6"/>
<rect x="866" y="251.8" width="1" height="1.3" fill="#26a69a"/>
<rect x="867" y="251.6" width="1" height="1.8" fill="#ef5350" opacity="0.6"/>
<rect x="867" y="252.0" width="1" height="1.1" fill="#ef5350"/>
<rect x="869" y="251.4" width="1" height="2.2" fill="#ef5350" opacity="0.6"/>
<rect x="869" y="251.8" width="1" height="1.3" fill="#ef5350"/>
<rect x="871" y="251.9" width="1" height="2.7" fill="#ef5350" opacity="0.6"/>
<rect x="871" y="252.4" width="1" height="1.6" fill="#ef5350"/>
<rect x="872" y="251.9" width="1" height="2.7" fill="#26a69a" opacity="0.6"/>
<rect x="872" y="252.4" width="1" height="1.6" fill="#26a69a"/>
<rect x="874" y="252.4" width="1" height="1.5" fill="#26a69a" opacity="0.6"/>
<rect x="874" y="252.7" width="1" height="0.9" fill="#26a69a"/>
<rect x="875" y="252.0" width="1" height="1.6" fill="#26a69a" opacity="0.6"/>
<rect x="875" y="252.3" width="1" height="1.0" fill="#26a69a"/>
<rect x="877" y="253.0" width="1" height="10.1" fill="#ef5350" opacity="0.6"/>
<rect x="877" y="255.0" width="1" height="6.1" fill="#ef5350"/>
<rect x="879" y="260.4" width="1" height="19.2" fill="#ef5350" opacity="0.6"/>
<rect x="879" y="260.8" width="1" height="9.3" fill="#ef5350"/>
<rect x="880" y="269.4" width="1" height="7.0" fill="#26a69a" opacity="0.6"/>
<rect x="880" y="270.8" width="1" height="4.2" fill="#26a69a"/>
<rect x="882" y="272.2" width="1" height="7.4" fill="#ef5350" opacity="0.6"/>
<rect x="882" y="273.7" width="1" height="4.4" fill="#ef5350"/>
<rect x="884" y="274.4" width="1" height="9.2" fill="#ef5350" opacity="0.6"/>
<rect x="884" y="276.2" width="1" height="5.5" fill="#ef5350"/>
<rect x="885" y="272.2" width="1" height="10.9" fill="#26a69a" opacity="0.6"/>
<rect x="885" y="274.4" width="1" height="6.5" fill="#26a69a"/>
<rect x="887" y="271.4" width="1" height="5.2" fill="#26a69a" opacity="0.6"/>
<rect x="887" y="272.4" width="1" height="3.1" fill="#26a69a"/>
<rect x="888" y="272.4" width="1" height="5.7" fill="#ef5350" opacity="0.6"/>
<rect x="888" y="273.5" width="1" height="3.4" fill="#ef5350"/>
<rect x="890" y="272.4" width="1" height="6.8" fill="#ef5350" opacity="0.6"/>
<rect x="890" y="273.8" width="1" height="4.1" fill="#ef5350"/>
<rect x="892" y="277.4" width="1" height="2.2" fill="#26a69a" opacity="0.6"/>
<rect x="892" y="277.8" width="1" height="1.3" fill="#26a69a"/>
<rect x="893" y="277.4" width="1" height="2.2" fill="#26a69a" opacity="0.6"/>
<rect x="893" y="277.8" width="1" height="1.3" fill="#26a69a"/>
<rect x="895" y="278.4" width="1" height="3.2" fill="#ef5350" opacity="0.6"/>
<rect x="895" y="279.0" width="1" height="1.9" fill="#ef5350"/>
<rect x="896" y="277.4" width="1" height="1.5" fill="#26a69a" opacity="0.6"/>
<rect x="896" y="277.7" width="1" height="0.9" fill="#26a69a"/>
<rect x="898" y="277.4" width="1" height="1.5" fill="#ef5350" opacity="0.6"/>
<rect x="898" y="277.7" width="1" height="0.9" fill="#ef5350"/>
<rect x="900" y="271.4" width="1" height="5.2" fill="#26a69a" opacity="0.6"/>
<rect x="900" y="272.4" width="1" height="3.1" fill="#26a69a"/>
<rect x="901" y="273.0" width="1" height="3.2" fill="#26a69a" opacity="0.6"/>
<rect x="901" y="273.7" width="1" height="1.9" fill="#26a69a"/>
<rect x="903" y="273.9" width="1" height="2.7" fill="#26a69a" opacity="0.6"/>
<rect x="903" y="274.4" width="1" height="1.6" fill="#26a69a"/>
<rect x="905" y="273.9" width="1" height="2.2" fill="#26a69a" opacity="0.6"/>
<rect x="905" y="274.3" width="1" height="1.3" fill="#26a69a"/>
<rect x="906" y="273.4" width="1" height="1.5" fill="#ef5350" opacity="0.6"/>
<rect x="906" y="273.7" width="1" height="0.9" fill="#ef5350"/>
<rect x="908" y="272.4" width="1" height="2.9" fill="#26a69a" opacity="0.6"/>
<rect x="908" y="273.0" width="1" height="1.7" fill="#26a69a"/>
<rect x="909" y="261.4" width="1" height="11.7" fill="#26a69a" opacity="0.6"/>
<rect x="909" y="263.7" width="1" height="7.0" fill="#26a69a"/>
<rect x="911" y="260.4" width="1" height="4.9" fill="#ef5350" opacity="0.6"/>
<rect x="911" y="261.4" width="1" height="2.9" fill="#ef5350"/>
<rect x="913" y="260.0" width="1" height="4.2" fill="#ef5350" opacity="0.6"/>
<rect x="913" y="260.8" width="1" height="2.5" fill="#ef5350"/>
<rect x="914" y="260.4" width="1" height="1.7" fill="#26a69a" opacity="0.6"/>
<rect x="914" y="260.7" width="1" height="1.0" fill="#26a69a"/>
<rect x="916" y="256.1" width="1" height="7.0" fill="#26a69a" opacity="0.6"/>
<rect x="916" y="257.5" width="1" height="4.2" fill="#26a69a"/>
<rect x="918" y="246.4" width="1" height="12.2" fill="#26a69a" opacity="0.6"/>
<rect x="918" y="248.8" width="1" height="7.3" fill="#26a69a"/>
<rect x="919" y="242.4" width="1" height="10.2" fill="#26a69a" opacity="0.6"/>
<rect x="919" y="244.4" width="1" height="6.1" fill="#26a69a"/>
<rect x="921" y="240.4" width="1" height="7.2" fill="#26a69a" opacity="0.6"/>
<rect x="921" y="241.8" width="1" height="4.3" fill="#26a69a"/>
<rect x="922" y="238.4" width="1" height="5.7" fill="#ef5350" opacity="0.6"/>
<rect x="922" y="239.5" width="1" height="3.4" fill="#ef5350"/>
<rect x="924" y="241.0" width="1" height="5.6" fill="#ef5350" opacity="0.6"/>
<rect x="924" y="242.1" width="1" height="3.4" fill="#ef5350"/>
<rect x="926" y="237.4" width="1" height="6.7" fill="#26a69a" opacity="0.6"/>
<rect x="926" y="238.7" width="1" height="4.0" fill="#26a69a"/>
<rect x="927" y="229.4" width="1" height="9.7" fill="#26a69a" opacity="0.6"/>
<rect x="927" y="231.3" width="1" height="5.8" fill="#26a69a"/>
<rect x="929" y="220.4" width="1" height="12.6" fill="#ef5350" opacity="0.6"/>
<rect x="929" y="222.9" width="1" height="7.6" fill="#ef5350"/>
<rect x="930" y="227.1" width="1" height="9.2" fill="#26a69a" opacity="0.6"/>
<rect x="930" y="228.9" width="1" height="5.5" fill="#26a69a"/>
<rect x="932" y="222.4" width="1" height="11.7" fill="#ef5350" opacity="0.6"/>
<rect x="932" y="224.7" width="1" height="7.0" fill="#ef5350"/>
<rect x="934" y="230.4" width="1" height="8.2" fill="#26a69a" opacity="0.6"/>
<rect x="934" y="232.0" width="1" height="4.9" fill="#26a69a"/>
<rect x="935" y="232.1" width="1" height="5.9" fill="#ef5350" opacity="0.6"/>
<rect x="935" y="233.3" width="1" height="3.5" fill="#ef5350"/>
<rect x="937" y="230.4" width="1" height="7.1" fill="#26a69a" opacity="0.6"/>
<rect x="937" y="231.8" width="1" height="4.3" fill="#26a69a"/>
<rect x="939" y="225.4" width="1" height="6.2" fill="#26a69a" opacity="0.6"/>
<rect x="939" y="226.6" width="1" height="3.7" fill="#26a69a"/>
<rect x="940" y="228.2" width="1" height="8.1" fill="#ef5350" opacity="0.6"/>
<rect x="940" y="229.8" width="1" height="4.9" fill="#ef5350"/>
<rect x="942" y="230.4" width="1" height="5.2" fill="#ef5350" opacity="0.6"/>
<rect x="942" y="231.4" width="1" height="3.1" fill="#ef5350"/>
<rect x="943" y="232.1" width="1" height="5.4" fill="#ef5350" opacity="0.6"/>
<rect x="943" y="233.2" width="1" height="3.2" fill="#ef5350"/>
<rect x="945" y="230.4" width="1" height="5.2" fill="#26a69a" opacity="0.6"/>
<rect x="945" y="231.4" width="1" height="3.1" fill="#26a69a"/>
<rect x="947" y="232.4" width="1" height="3.2" fill="#ef5350" opacity="0.6"/>
<rect x="947" y="233.0" width="1" height="1.9" fill="#ef5350"/>
<rect x="948" y="233.4" width="1" height="3.2" fill="#ef5350" opacity="0.6"/>
<rect x="948" y="234.0" width="1" height="1.9" fill="#ef5350"/>
<rect x="950" y="234.4" width="1" height="10.9" fill="#ef5350" opacity="0.6"/>
<rect x="950" y="236.6" width="1" height="6.5" fill="#ef5350"/>
<rect x="952" y="241.4" width="1" height="3.9" fill="#ef5350" opacity="0.6"/>
<rect x="952" y="242.2" width="1" height="2.3" fill="#ef5350"/>
<rect x="953" y="241.4" width="1" height="3.9" fill="#26a69a" opacity="0.6"/>
<rect x="953" y="242.2" width="1" height="2.3" fill="#26a69a"/>
<rect x="955" y="242.2" width="1" height="3.1" fill="#26a69a" opacity="0.6"/>
<rect x="955" y="242.8" width="1" height="1.9" fill="#26a69a"/>
<rect x="956" y="232.4" width="1" height="16.2" fill="#26a69a" opacity="0.6"/>
<rect x="956" y="235.6" width="1" height="9.7" fill="#26a69a"/>
<rect x="958" y="234.4" width="1" height="5.2" fill="#ef5350" opacity="0.6"/>
<rect x="958" y="235.4" width="1" height="3.1" fill="#ef5350"/>
<rect x="960" y="236.0" width="1" height="4.2" fill="#ef5350" opacity="0.6"/>
<rect x="960" y="236.8" width="1" height="2.5" fill="#ef5350"/>
<rect x="961" y="238.3" width="1" height="4.2" fill="#ef5350" opacity="0.6"/>
<rect x="961" y="239.1" width="1" height="2.5" fill="#ef5350"/>
<rect x="963" y="241.0" width="1" height="10.4" fill="#ef5350" opacity="0.6"/>
<rect x="963" y="243.1" width="1" height="6.2" fill="#ef5350"/>
<rect x="965" y="245.4" width="1" height="7.7" fill="#26a69a" opacity="0.6"/>
<rect x="965" y="246.9" width="1" height="4.6" fill="#26a69a"/>
<rect x="966" y="245.4" width="1" height="3.8" fill="#26a69a" opacity="0.6"/>
<rect x="966" y="246.2" width="1" height="2.3" fill="#26a69a"/>
<rect x="968" y="246.1" width="1" height="3.5" fill="#ef5350" opacity="0.6"/>
<rect x="968" y="246.8" width="1" height="2.1" fill="#ef5350"/>
<rect x="969" y="246.1" width="1" height="7.5" fill="#26a69a" opacity="0.6"/>
<rect x="969" y="247.6" width="1" height="4.5" fill="#26a69a"/>
<rect x="971" y="246.1" width="1" height="3.1" fill="#ef5350" opacity="0.6"/>
<rect x="971" y="246.7" width="1" height="1.9" fill="#ef5350"/>
<rect x="973" y="247.2" width="1" height="3.4" fill="#ef5350" opacity="0.6"/>
<rect x="973" y="247.9" width="1" height="2.0" fill="#ef5350"/>
<rect x="974" y="241.0" width="1" height="7.0" fill="#26a69a" opacity="0.6"/>
<rect x="974" y="242.4" width="1" height="4.2" fill="#26a69a"/>
<rect x="976" y="238.8" width="1" height="4.8" fill="#26a69a" opacity="0.6"/>
<rect x="976" y="239.8" width="1" height="2.9" fill="#26a69a"/>
<rect x="977" y="240.4" width="1" height="2.2" fill="#ef5350" opacity="0.6"/>
<rect x="977" y="240.8" width="1" height="1.3" fill="#ef5350"/>
<rect x="979" y="236.4" width="1" height="5.0" fill="#26a69a" opacity="0.6"/>
<rect x="979" y="237.4" width="1" height="3.0" fill="#26a69a"/>
<rect x="981" y="233.3" width="1" height="4.7" fill="#26a69a" opacity="0.6"/>
<rect x="981" y="234.2" width="1" height="2.8" fill="#26a69a"/>
<rect x="982" y="232.7" width="1" height="4.2" fill="#ef5350" opacity="0.6"/>
<rect x="982" y="233.5" width="1" height="2.5" fill="#ef5350"/>
<rect x="984" y="233.3" width="1" height="4.7" fill="#26a69a" opacity="0.6"/>
<rect x="984" y="234.2" width="1" height="2.8" fill="#26a69a"/>
<rect x="986" y="234.4" width="1" height="7.2" fill="#ef5350" opacity="0.6"/>
<rect x="986" y="235.8" width="1" height="4.3" fill="#ef5350"/>
<rect x="987" y="238.3" width="1" height="6.3" fill="#ef5350" opacity="0.6"/>
<rect x="987" y="239.6" width="1" height="3.8" fill="#ef5350"/>
<rect x="989" y="243.3" width="1" height="31.3" fill="#ef5350" opacity="0.6"/>
<rect x="989" y="243.3" width="1" height="7.7" fill="#ef5350"/>
<rect x="990" y="250.4" width="1" height="19.2" fill="#26a69a" opacity="0.6"/>
<rect x="990" y="250.4" width="1" height="4.0" fill="#26a69a"/>
<rect x="992" y="249.4" width="1" height="9.2" fill="#26a69a" opacity="0.6"/>
<rect x="992" y="251.2" width="1" height="5.5" fill="#26a69a"/>
<rect x="994" y="248.3" width="1" height="8.3" fill="#26a69a" opacity="0.6"/>
<rect x="994" y="250.0" width="1" height="5.0" fill="#26a69a"/>
<rect x="995" y="247.4" width="1" height="4.0" fill="#26a69a" opacity="0.6"/>
<rect x="995" y="248.2" width="1" height="2.4" fill="#26a69a"/>
<rect x="997" y="248.3" width="1" height="5.3" fill="#26a69a" opacity="0.6"/>
<rect x="997" y="249.4" width="1" height="3.2" fill="#26a69a"/>
<rect x="999" y="244.9" width="1" height="8.2" fill="#26a69a" opacity="0.6"/>
<rect x="999" y="246.5" width="1" height="4.9" fill="#26a69a"/>
<rect x="1000" y="236.4" width="1" height="10.0" fill="#26a69a" opacity="0.6"/>
<rect x="1000" y="238.4" width="1" height="6.0" fill="#26a69a"/>
<rect x="1002" y="233.8" width="1" height="9.8" fill="#ef5350" opacity="0.6"/>
<rect x="1002" y="235.8" width="1" height="5.9" fill="#ef5350"/>
<rect x="1003" y="233.8" width="1" height="9.2" fill="#26a69a" opacity="0.6"/>
<rect x="1003" y="235.6" width="1" height="5.5" fill="#26a69a"/>
<rect x="1005" y="234.4" width="1" height="5.8" fill="#ef5350" opacity="0.6"/>
<rect x="1005" y="235.6" width="1" height="3.5" fill="#ef5350"/></g>

<path d="M247.6,481.3 C248.4,480.2 250.9,476.9 252.6,474.8 C254.3,472.6 255.9,470.5 257.6,468.5 C259.3,466.5 260.9,464.5 262.6,462.5 C264.3,460.5 265.9,458.6 267.6,456.7 C269.3,454.8 270.9,453.0 272.6,451.2 C274.3,449.3 275.9,447.6 277.6,445.8 C279.3,444.0 280.9,442.3 282.6,440.6 C284.3,438.9 285.9,437.2 287.6,435.6 C289.3,434.0 290.9,432.3 292.6,430.7 C294.3,429.2 295.9,427.6 297.6,426.0 C299.3,424.5 300.9,423.0 302.6,421.5 C304.3,420.0 305.9,418.5 307.6,417.0 C309.3,415.6 310.9,414.1 312.6,412.7 C314.3,411.3 315.9,409.9 317.6,408.5 C319.3,407.2 320.9,405.8 322.6,404.5 C324.3,403.1 325.9,401.8 327.6,400.5 C329.3,399.2 330.9,397.9 332.6,396.6 C334.3,395.3 335.9,394.1 337.6,392.8 C339.3,391.6 340.9,390.3 342.6,389.1 C344.3,387.9 345.9,386.7 347.6,385.5 C349.3,384.3 350.9,383.2 352.6,382.0 C354.3,380.8 355.9,379.7 357.6,378.6 C359.3,377.4 360.9,376.3 362.6,375.2 C364.3,374.1 362.9,374.9 367.6,371.9 C372.3,368.9 383.3,361.9 391.1,357.2 C398.9,352.6 406.7,348.1 414.6,343.9 C422.4,339.6 430.2,335.5 438.0,331.5 C445.9,327.5 453.7,323.7 461.5,320.1 C469.4,316.4 477.2,312.8 485.0,309.4 C492.8,305.9 500.7,302.6 508.5,299.3 C516.3,296.1 524.1,293.0 532.0,289.9 C539.8,286.9 547.6,283.9 555.5,281.0 C563.3,278.1 571.1,275.3 578.9,272.6 C586.8,269.8 594.6,267.1 602.4,264.5 C610.2,261.9 618.1,259.4 625.9,256.9 C633.7,254.4 641.5,252.0 649.4,249.6 C657.2,247.2 665.0,244.9 672.9,242.6 C680.7,240.3 688.5,238.1 696.3,235.9 C704.2,233.7 712.0,231.5 719.8,229.4 C727.6,227.3 735.5,225.3 743.3,223.2 C751.1,221.2 759.0,219.2 766.8,217.3 C774.6,215.3 782.4,213.4 790.3,211.5 C798.1,209.7 805.9,207.8 813.7,206.0 C821.6,204.2 829.4,202.4 837.2,200.7 C845.1,199.0 852.9,197.2 860.7,195.6 C868.5,193.9 876.4,192.2 884.2,190.6 C892.0,189.0 899.8,187.4 907.7,185.8 C915.5,184.3 923.3,182.7 931.2,181.2 C939.0,179.7 946.8,178.2 954.6,176.8 C962.5,175.3 970.3,173.9 978.1,172.4 C985.9,171.0 993.8,169.6 1001.6,168.3 C1009.4,166.9 1017.3,165.5 1025.1,164.2 C1032.9,162.9 1040.7,161.6 1048.6,160.3 C1056.4,159.0 1064.2,157.7 1072.0,156.5 C1079.9,155.3 1087.7,154.0 1095.5,152.8 C1103.3,151.6 1111.2,150.4 1119.0,149.3 C1126.8,148.1 1134.7,146.9 1142.5,145.8 C1150.3,144.7 1158.1,143.5 1166.0,142.4 C1173.8,141.3 1181.6,140.3 1189.4,139.2 C1197.3,138.1 1205.1,137.1 1212.9,136.0 C1220.8,135.0 1228.6,134.0 1236.4,132.9 C1244.2,131.9 1252.1,130.9 1259.9,130.0 C1267.7,129.0 1275.5,128.0 1283.4,127.1 C1291.2,126.1 1299.0,125.2 1306.9,124.2 C1314.7,123.3 1322.5,122.4 1330.3,121.5 C1338.2,120.6 1346.0,119.7 1353.8,118.8 C1361.6,117.9 1369.5,117.1 1377.3,116.2 C1385.1,115.4 1393.0,114.5 1400.8,113.7 C1408.6,112.9 1416.4,112.0 1424.3,111.2 C1432.1,110.4 1439.9,109.6 1447.7,108.8 C1455.6,108.0 1463.4,107.3 1471.2,106.5 C1479.1,105.7 1486.9,105.0 1494.7,104.2 C1502.5,103.5 1510.4,102.7 1518.2,102.0 C1526.0,101.3 1533.8,100.6 1541.7,99.8 C1549.5,99.1 1557.3,98.4 1565.1,97.7 C1573.0,97.0 1580.8,96.4 1588.6,95.7 C1596.5,95.0 1604.3,94.3 1612.1,93.7 C1619.9,93.0 1627.8,92.4 1635.6,91.7 C1643.4,91.1 1651.2,90.5 1659.1,89.8 C1666.9,89.2 1674.7,88.6 1682.6,88.0 C1690.4,87.4 1698.2,86.8 1706.0,86.2 C1713.9,85.6 1721.7,85.0 1729.5,84.4 C1737.3,83.8 1749.1,83.0 1753.0,82.7" fill="none" stroke="#0fbe0f" stroke-width="1.2" stroke-dasharray="1.3 1.7"/>
<path d="M183.5,815.5 C184.3,812.0 186.8,800.8 188.5,794.1 C190.2,787.5 191.8,781.4 193.5,775.6 C195.2,769.9 196.8,764.5 198.5,759.5 C200.2,754.4 201.8,749.7 203.5,745.1 C205.2,740.6 206.8,736.4 208.5,732.3 C210.2,728.2 211.8,724.3 213.5,720.6 C215.2,716.9 216.8,713.4 218.5,709.9 C220.2,706.5 221.8,703.2 223.5,700.1 C225.2,696.9 226.8,693.8 228.5,690.8 C230.2,687.8 231.8,684.9 233.5,682.1 C235.2,679.3 236.8,676.5 238.5,673.8 C240.2,671.1 241.8,668.5 243.5,665.9 C245.2,663.4 246.8,660.9 248.5,658.4 C250.2,656.0 251.8,653.6 253.5,651.2 C255.2,648.9 256.8,646.6 258.5,644.3 C260.2,642.1 261.8,639.8 263.5,637.7 C265.2,635.5 266.8,633.4 268.5,631.3 C270.2,629.2 271.8,627.1 273.5,625.1 C275.2,623.0 276.8,621.0 278.5,619.1 C280.2,617.1 281.8,615.2 283.5,613.3 C285.2,611.4 286.8,609.5 288.5,607.6 C290.2,605.8 291.8,604.0 293.5,602.1 C295.2,600.3 296.8,598.6 298.5,596.8 C300.2,595.0 298.6,596.5 303.5,591.6 C308.4,586.7 319.9,575.2 328.1,567.6 C336.3,560.0 344.4,552.9 352.6,546.0 C360.8,539.1 369.0,532.5 377.2,526.2 C385.4,519.8 393.6,513.8 401.8,507.9 C410.0,502.1 418.1,496.5 426.3,491.0 C434.5,485.6 442.7,480.3 450.9,475.2 C459.1,470.1 467.3,465.2 475.5,460.4 C483.7,455.6 491.9,450.9 500.0,446.4 C508.2,441.9 516.4,437.5 524.6,433.2 C532.8,428.9 541.0,424.7 549.2,420.6 C557.4,416.6 565.6,412.6 573.7,408.7 C581.9,404.8 590.1,401.0 598.3,397.3 C606.5,393.6 614.7,389.9 622.9,386.4 C631.1,382.8 639.3,379.3 647.4,375.9 C655.6,372.5 663.8,369.2 672.0,365.9 C680.2,362.6 688.4,359.4 696.6,356.2 C704.8,353.1 713.0,350.0 721.2,347.0 C729.3,343.9 737.5,341.0 745.7,338.0 C753.9,335.1 762.1,332.3 770.3,329.4 C778.5,326.6 786.7,323.9 794.9,321.2 C803.0,318.4 811.2,315.8 819.4,313.2 C827.6,310.5 835.8,308.0 844.0,305.4 C852.2,302.9 860.4,300.4 868.6,298.0 C876.7,295.5 884.9,293.1 893.1,290.8 C901.3,288.4 909.5,286.1 917.7,283.8 C925.9,281.5 934.1,279.3 942.3,277.1 C950.5,274.9 958.6,272.7 966.8,270.5 C975.0,268.4 983.2,266.3 991.4,264.2 C999.6,262.1 1007.8,260.1 1016.0,258.1 C1024.2,256.1 1032.3,254.1 1040.5,252.1 C1048.7,250.2 1056.9,248.3 1065.1,246.4 C1073.3,244.5 1081.5,242.6 1089.7,240.8 C1097.9,238.9 1106.0,237.1 1114.2,235.3 C1122.4,233.5 1130.6,231.8 1138.8,230.0 C1147.0,228.3 1155.2,226.6 1163.4,224.9 C1171.6,223.2 1179.8,221.5 1187.9,219.9 C1196.1,218.3 1204.3,216.6 1212.5,215.0 C1220.7,213.4 1228.9,211.9 1237.1,210.3 C1245.3,208.7 1253.5,207.2 1261.6,205.7 C1269.8,204.2 1278.0,202.7 1286.2,201.2 C1294.4,199.7 1302.6,198.3 1310.8,196.8 C1319.0,195.4 1327.2,194.0 1335.3,192.6 C1343.5,191.2 1351.7,189.8 1359.9,188.4 C1368.1,187.1 1376.3,185.7 1384.5,184.4 C1392.7,183.1 1400.9,181.7 1409.1,180.4 C1417.2,179.1 1425.4,177.9 1433.6,176.6 C1441.8,175.3 1450.0,174.1 1458.2,172.8 C1466.4,171.6 1474.6,170.4 1482.8,169.2 C1490.9,168.0 1499.1,166.8 1507.3,165.6 C1515.5,164.4 1523.7,163.2 1531.9,162.1 C1540.1,160.9 1548.3,159.8 1556.5,158.7 C1564.6,157.6 1572.8,156.4 1581.0,155.3 C1589.2,154.2 1597.4,153.2 1605.6,152.1 C1613.8,151.0 1622.0,150.0 1630.2,148.9 C1638.4,147.9 1646.5,146.8 1654.7,145.8 C1662.9,144.8 1671.1,143.7 1679.3,142.7 C1687.5,141.7 1695.7,140.8 1703.9,139.8 C1712.1,138.8 1720.2,137.8 1728.4,136.9 C1736.6,135.9 1748.9,134.5 1753.0,134.0" fill="none" stroke="#0fbe0f" stroke-width="1.2" stroke-dasharray="1.3 1.7"/>
<path d="M239.0,508.0 C240.8,510.5 246.2,518.0 250.0,523.0 C253.8,528.0 257.8,533.7 262.0,538.0 C266.2,542.3 270.3,545.8 275.0,549.0 C279.7,552.2 285.0,555.0 290.0,557.0 C295.0,559.0 301.0,560.2 305.0,561.0 C309.0,561.8 310.7,561.9 314.0,562.0 C317.3,562.1 321.0,562.3 325.0,561.5 C329.0,560.7 334.3,558.9 338.0,557.0 C341.7,555.1 342.7,554.1 347.4,550.3 C352.1,546.5 360.4,539.4 366.0,534.3 C371.6,529.2 377.2,523.5 380.8,519.5 C384.4,515.5 385.3,513.2 387.5,510.2 C389.7,507.2 392.0,504.6 394.2,501.5 C396.4,498.4 398.8,494.6 400.9,491.5 C403.0,488.4 404.9,485.9 406.9,482.8 C408.9,479.7 411.1,475.9 412.9,472.8 C414.7,469.7 415.8,467.2 417.6,464.0 C419.4,460.8 421.7,456.8 423.6,453.4 C425.5,449.9 427.2,446.4 428.9,443.3 C430.5,440.2 432.0,437.5 433.5,434.5 C435.0,431.5 436.3,428.4 437.7,425.4 C439.1,422.3 440.1,419.8 441.9,416.2 C443.7,412.6 446.2,408.6 448.6,403.6 C451.0,398.6 454.0,391.0 456.1,386.0 C458.2,381.0 459.7,377.2 461.4,373.5 C463.1,369.8 464.5,367.4 466.1,363.5 C467.7,359.6 469.2,355.2 471.1,350.0 C473.1,344.8 476.7,335.4 477.8,332.5" fill="none" stroke="#00f000" stroke-width="1.15" stroke-dasharray="5.3 5.2"/>
<path d="M443.5,338.8 C447.9,340.8 460.0,346.8 470.0,351.0 C480.0,355.2 492.0,360.2 503.7,364.0 C515.4,367.8 529.0,371.6 540.0,374.0 C551.0,376.4 561.7,377.6 570.0,378.5 C578.3,379.4 582.0,379.1 590.0,379.2 C598.0,379.3 612.0,379.4 618.0,379.2 C624.0,378.9 623.1,378.2 626.2,377.7 C629.3,377.2 633.2,377.0 636.8,376.4 C640.4,375.8 644.4,375.1 648.0,374.2 C651.6,373.3 655.0,372.2 658.5,371.2 C662.0,370.2 665.6,369.2 669.0,368.0 C672.4,366.8 675.7,365.5 679.0,364.2 C682.3,362.9 685.5,361.6 689.0,360.0 C692.5,358.4 696.5,356.6 700.0,354.8 C703.5,353.0 706.9,350.9 710.0,349.1 C713.1,347.3 715.8,346.0 718.7,344.1 C721.6,342.2 724.5,339.8 727.4,337.7 C730.3,335.6 733.2,333.8 736.1,331.4 C739.0,329.0 742.0,325.9 744.8,323.4 C747.6,320.9 750.2,318.8 752.8,316.4 C755.3,313.9 757.5,311.3 760.1,308.7 C762.7,306.1 765.6,303.4 768.2,300.6 C770.8,297.8 773.1,294.7 775.5,292.0 C777.9,289.3 780.0,287.3 782.3,284.6 C784.5,281.9 786.8,279.0 789.0,276.0 C791.2,273.0 793.6,269.9 795.8,266.8 C797.9,263.7 799.9,260.8 801.9,257.6 C803.9,254.4 806.1,250.9 808.0,247.8 C809.9,244.7 811.7,242.4 813.5,239.2 C815.3,236.0 817.1,232.3 819.0,228.8 C820.9,225.3 823.4,220.6 824.6,218.4 C825.8,216.2 825.8,216.2 826.0,215.8" fill="none" stroke="#00f000" stroke-width="1.15" stroke-dasharray="5.3 5.2"/>
<path d="M748.4,220.9 C753.7,222.6 771.4,228.5 780.0,231.0 C788.6,233.5 794.2,234.6 800.0,236.1 C805.8,237.6 808.6,238.6 814.5,240.0 C820.4,241.4 828.7,243.1 835.6,244.5 C842.5,245.9 848.6,247.2 855.7,248.4 C862.8,249.6 870.6,250.7 878.0,251.7 C885.4,252.7 892.8,253.7 900.2,254.5 C907.6,255.3 915.1,256.0 922.5,256.5 C929.9,257.0 937.4,257.4 944.8,257.5 C952.2,257.6 959.6,257.5 967.0,257.3 C974.4,257.1 983.9,256.8 989.3,256.5 C994.7,256.2 994.7,256.1 999.3,255.6 C1003.9,255.1 1011.5,254.2 1017.0,253.4 C1022.5,252.6 1028.7,251.4 1032.5,250.7 C1036.3,250.0 1036.3,249.9 1040.0,249.0 C1043.7,248.1 1049.0,246.5 1054.5,245.0 C1060.0,243.5 1066.5,242.2 1073.3,240.0 C1080.0,237.8 1088.2,234.8 1095.0,232.0 C1101.8,229.2 1107.3,226.2 1113.8,223.0 C1120.3,219.8 1128.9,215.4 1134.0,212.5 C1139.1,209.6 1139.6,208.8 1144.2,205.7 C1148.8,202.6 1155.8,198.0 1161.6,193.7 C1167.4,189.4 1173.5,184.8 1179.0,180.0 C1184.5,175.2 1189.8,169.9 1194.8,164.7 C1199.8,159.5 1205.3,153.2 1209.3,148.8 C1213.3,144.4 1217.1,139.8 1218.7,138.0" fill="none" stroke="#00f000" stroke-width="1.15" stroke-dasharray="5.3 5.2"/>
<g stroke="#e8e8e8" stroke-width="1.3" stroke-dasharray="1.3 1.7" fill="none">
<line x1="238" y1="500" x2="383.5" y2="516.2"/>
<line x1="444" y1="322.7" x2="716.7" y2="344.4"/>
<line x1="799.3" y1="206.6" x2="1061.7" y2="241.4"/>
</g>
<g stroke="#ffffff" stroke-width="1.3" stroke-dasharray="1.2 1.8" fill="none">
<line x1="1058.5" y1="251" x2="1058.5" y2="276"/>
<line x1="1143.5" y1="208" x2="1143.5" y2="277"/>
<line x1="1227.5" y1="141" x2="1227.5" y2="311"/>
</g>

<line x1="7" y1="240.5" x2="1753" y2="240.5" stroke="#ef5350" stroke-width="1" stroke-dasharray="2 1" shape-rendering="crispEdges"/>
<g shape-rendering="crispEdges"><rect x="6.5" y="43.5" width="1815" height="818" fill="none" stroke="#8c8c8c"/><line x1="1753.5" y1="44" x2="1753.5" y2="861" stroke="#8c8c8c"/><line x1="7" y1="834.5" x2="1821" y2="834.5" stroke="#8c8c8c"/><line x1="1754" y1="46.5" x2="1758" y2="46.5" stroke="#8c8c8c"/><line x1="1754" y1="76.5" x2="1758" y2="76.5" stroke="#8c8c8c"/><line x1="1754" y1="106.5" x2="1758" y2="106.5" stroke="#8c8c8c"/><line x1="1754" y1="135.5" x2="1758" y2="135.5" stroke="#8c8c8c"/><line x1="1754" y1="163.5" x2="1758" y2="163.5" stroke="#8c8c8c"/><line x1="1754" y1="193.5" x2="1758" y2="193.5" stroke="#8c8c8c"/><line x1="1754" y1="223.5" x2="1758" y2="223.5" stroke="#8c8c8c"/><line x1="1754" y1="253.5" x2="1758" y2="253.5" stroke="#8c8c8c"/><line x1="1754" y1="282.5" x2="1758" y2="282.5" stroke="#8c8c8c"/><line x1="1754" y1="311.5" x2="1758" y2="311.5" stroke="#8c8c8c"/><line x1="1754" y1="340.5" x2="1758" y2="340.5" stroke="#8c8c8c"/><line x1="1754" y1="371.5" x2="1758" y2="371.5" stroke="#8c8c8c"/><line x1="1754" y1="400.5" x2="1758" y2="400.5" stroke="#8c8c8c"/><line x1="1754" y1="432.5" x2="1758" y2="432.5" stroke="#8c8c8c"/><line x1="1754" y1="460.5" x2="1758" y2="460.5" stroke="#8c8c8c"/><line x1="1754" y1="490.5" x2="1758" y2="490.5" stroke="#8c8c8c"/><line x1="1754" y1="519.5" x2="1758" y2="519.5" stroke="#8c8c8c"/><line x1="1754" y1="549.5" x2="1758" y2="549.5" stroke="#8c8c8c"/><line x1="1754" y1="582.5" x2="1758" y2="582.5" stroke="#8c8c8c"/><line x1="1754" y1="615.5" x2="1758" y2="615.5" stroke="#8c8c8c"/><line x1="1754" y1="645.5" x2="1758" y2="645.5" stroke="#8c8c8c"/><line x1="1754" y1="675.5" x2="1758" y2="675.5" stroke="#8c8c8c"/><line x1="1754" y1="706.5" x2="1758" y2="706.5" stroke="#8c8c8c"/><line x1="1754" y1="738.5" x2="1758" y2="738.5" stroke="#8c8c8c"/><line x1="1754" y1="768.5" x2="1758" y2="768.5" stroke="#8c8c8c"/><line x1="1754" y1="797.5" x2="1758" y2="797.5" stroke="#8c8c8c"/><line x1="1754" y1="827.5" x2="1758" y2="827.5" stroke="#8c8c8c"/><line x1="213.5" y1="835" x2="213.5" y2="838" stroke="#8c8c8c"/><line x1="297.5" y1="835" x2="297.5" y2="838" stroke="#8c8c8c"/><line x1="383.5" y1="835" x2="383.5" y2="838" stroke="#8c8c8c"/><line x1="467.5" y1="835" x2="467.5" y2="838" stroke="#8c8c8c"/><line x1="551.5" y1="835" x2="551.5" y2="838" stroke="#8c8c8c"/><line x1="636.5" y1="835" x2="636.5" y2="838" stroke="#8c8c8c"/><line x1="720.5" y1="835" x2="720.5" y2="838" stroke="#8c8c8c"/><line x1="804.5" y1="835" x2="804.5" y2="838" stroke="#8c8c8c"/><line x1="890.5" y1="835" x2="890.5" y2="838" stroke="#8c8c8c"/><line x1="974.5" y1="835" x2="974.5" y2="838" stroke="#8c8c8c"/><line x1="1058.5" y1="835" x2="1058.5" y2="838" stroke="#8c8c8c"/><line x1="1143.5" y1="835" x2="1143.5" y2="838" stroke="#8c8c8c"/><line x1="1227.5" y1="835" x2="1227.5" y2="838" stroke="#8c8c8c"/><line x1="1311.5" y1="835" x2="1311.5" y2="838" stroke="#8c8c8c"/><line x1="1397.5" y1="835" x2="1397.5" y2="838" stroke="#8c8c8c"/><line x1="1481.5" y1="835" x2="1481.5" y2="838" stroke="#8c8c8c"/><line x1="1565.5" y1="835" x2="1565.5" y2="838" stroke="#8c8c8c"/><line x1="1649.5" y1="835" x2="1649.5" y2="838" stroke="#8c8c8c"/><line x1="1734.5" y1="835" x2="1734.5" y2="838" stroke="#8c8c8c"/></g>
<path d="M137,25 L147,25 L142,35.5 Z" fill="#ef5350"/>
<g transform="translate(6,872)">
<path d="M2.9,15.05 C0.9,15.05 -0.15,13 -0.15,10.7 C-0.15,7.8 2.2,5.3 5.0,4.05 C5.8,1.5 8.3,-0.15 11.37,-0.15 C14.0,-0.15 16.2,1.6 17.05,4.0 C17.9,3.6 19.2,3.55 20.2,3.9 C21.8,4.4 22.9,5.9 23.4,7.0 C25.2,7.9 26.25,9.6 26.25,11.3 C26.25,13.4 24.9,15.05 23,15.05 Z" fill="#2196f3"/>
<path d="M0.7,12.85 L9.7,5.4 L16.05,11.4 L22.6,4.6" fill="none" stroke="#131722" stroke-width="1.2"/>
<circle cx="9.7" cy="5.4" r="1.75" fill="#131722"/><circle cx="16.05" cy="11.4" r="1.75" fill="#131722"/>
</g>
</svg>
<div class="t h1"><b>christophercolumbus</b> published on TradingView.com, May 25, 2020 05:25:27 UTC</div>
<div class="t h2"><b>BNC:BLX, 1W</b><span style="left:82px">8724.29</span><span style="left:145px">&minus;456.30 (&minus;4.97%)</span><span style="left:248px"><b>O:</b></span><span class="red" style="left:262px">9679.93</span><span style="left:312px"><b>H:</b></span><span class="red" style="left:326px">9929.86</span><span style="left:376px"><b>L:</b></span><span class="red" style="left:387px">8713.99</span><span style="left:437px"><b>C:</b></span><span class="red" style="left:449px">8724.29</span></div>
<div class="t title">BraveNewCoin Liquid Index for Bitcoin, 1W, BNC</div>
<div style="position:absolute;left:0;top:44px;width:1828px;height:790px;overflow:hidden;"><div style="position:absolute;left:0;top:-44px;">
<div class="pl" style="top:40px">800000.00</div>
<div class="pl" style="top:70px">400000.00</div>
<div class="pl" style="top:100px">200000.00</div>
<div class="pl" style="top:129px">100000.00</div>
<div class="pl" style="top:157px">52000.00</div>
<div class="pl" style="top:187px">26000.00</div>
<div class="pl" style="top:217px">13000.00</div>
<div class="pl" style="top:247px">6500.00</div>
<div class="pl" style="top:276px">3250.00</div>
<div class="pl" style="top:305px">1650.00</div>
<div class="pl" style="top:334px">850.00</div>
<div class="pl" style="top:365px">410.00</div>
<div class="pl" style="top:394px">210.00</div>
<div class="pl" style="top:426px">100.00</div>
<div class="pl" style="top:454px">52.00</div>
<div class="pl" style="top:484px">26.00</div>
<div class="pl" style="top:513px">13.00</div>
<div class="pl" style="top:543px">6.50</div>
<div class="pl" style="top:576px">3.00</div>
<div class="pl" style="top:609px">1.40</div>
<div class="pl" style="top:639px">0.70</div>
<div class="pl" style="top:669px">0.35</div>
<div class="pl" style="top:700px">0.17</div>
<div class="pl" style="top:732px">0.08</div>
<div class="pl" style="top:762px">0.04</div>
<div class="pl" style="top:791px">0.02</div>
<div class="pl" style="top:821px">0.01</div>
</div></div>
<div class="yl" style="left:193px">2011</div>
<div class="yl" style="left:277px">2012</div>
<div class="yl" style="left:363px">2013</div>
<div class="yl" style="left:447px">2014</div>
<div class="yl" style="left:531px">2015</div>
<div class="yl" style="left:616px">2016</div>
<div class="yl" style="left:700px">2017</div>
<div class="yl" style="left:784px">2018</div>
<div class="yl" style="left:870px">2019</div>
<div class="yl" style="left:954px">2020</div>
<div class="yl" style="left:1038px">2021</div>
<div class="yl" style="left:1123px">2022</div>
<div class="yl" style="left:1207px">2023</div>
<div class="yl" style="left:1291px">2024</div>
<div class="yl" style="left:1377px">2025</div>
<div class="yl" style="left:1461px">2026</div>
<div class="yl" style="left:1545px">2027</div>
<div class="yl" style="left:1629px">2028</div>
<div class="yl" style="left:1714px">2029</div>
<div class="tag"><i></i><b>8724.29</b></div>
<div class="ann" id="a1" style="left:1001px;top:292px;">2020 - Consolidation</div>
<div class="ann" id="a2" style="left:1080px;top:320px;">2021 - Recovery of previous ATH</div>
<div class="ann" id="a3" style="left:1166px;top:352px;">2022 - The manic phase</div>
<div class="logo">TradingView</div>
</body></html>
